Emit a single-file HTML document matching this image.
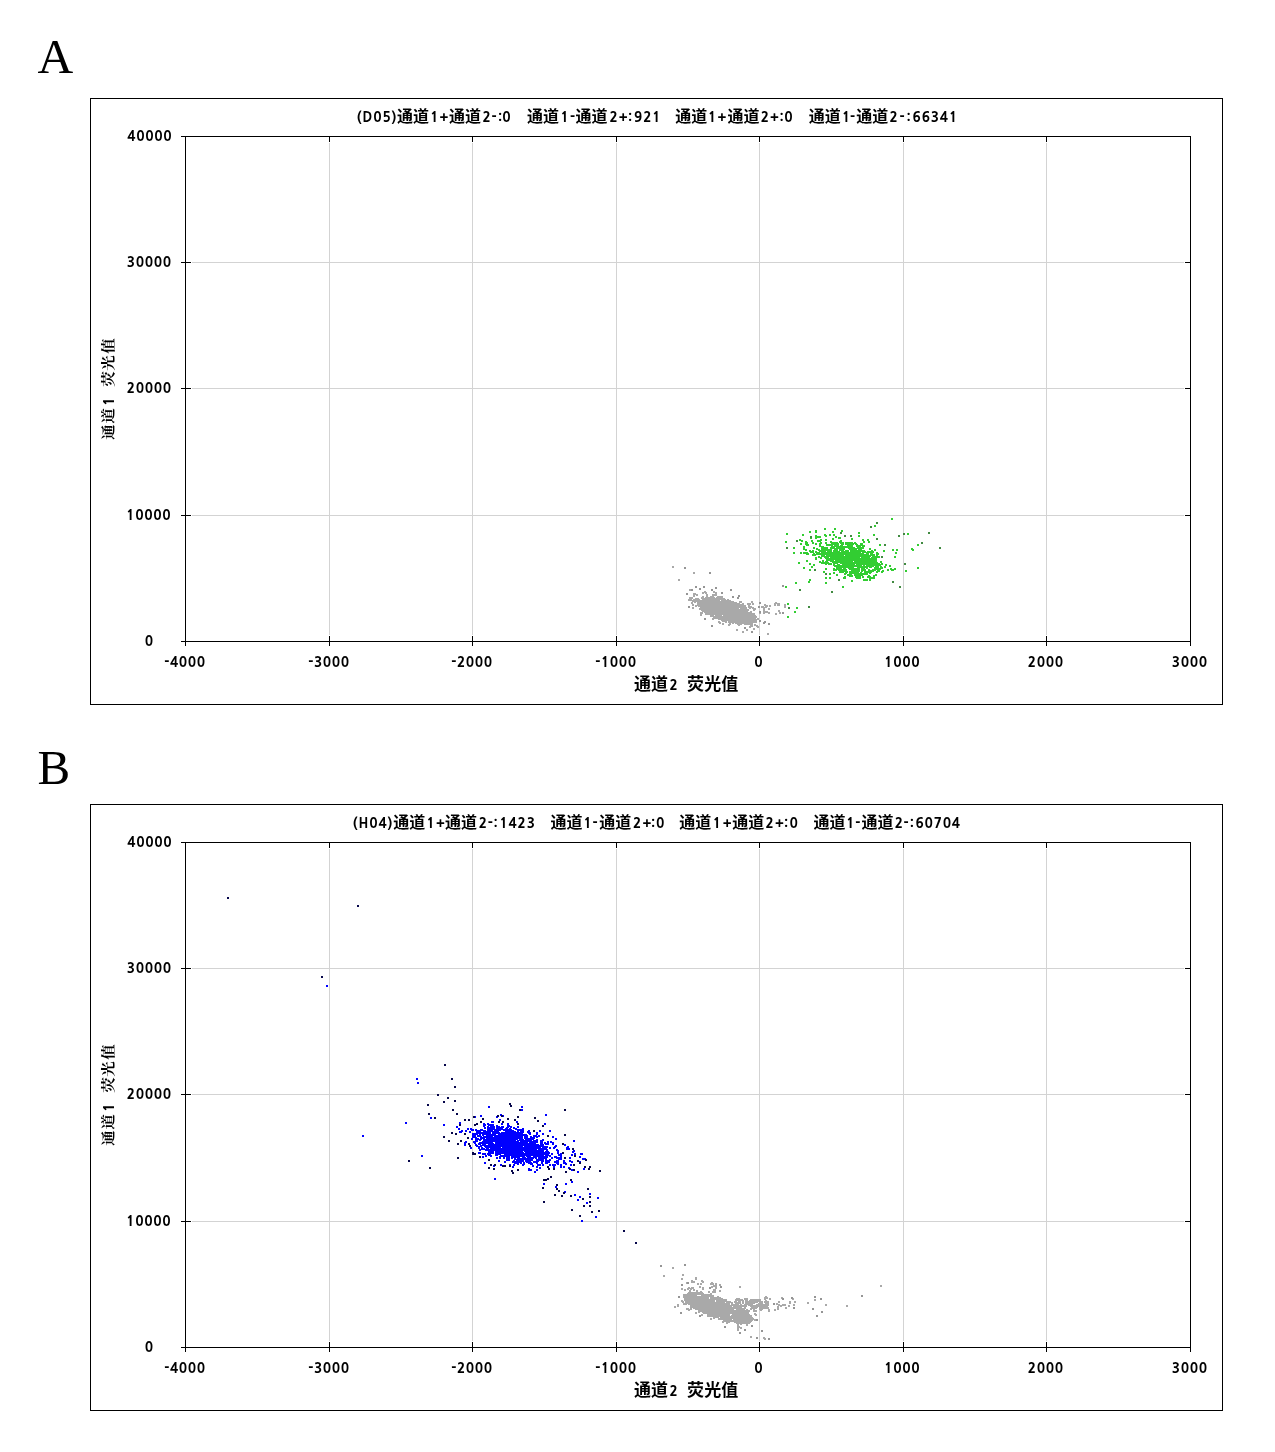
<!DOCTYPE html>
<html><head><meta charset="utf-8"><title>Scatter plots</title>
<style>
html,body{margin:0;padding:0;background:#fff;width:1275px;height:1452px;overflow:hidden}
svg{display:block}
.l{font-family:"NanumGothic", "Liberation Sans", sans-serif;font-weight:800;font-size:13.5px;letter-spacing:0.9px;fill:#000}
.t{font-family:"NanumGothic", "Liberation Sans", sans-serif;font-weight:800;font-size:13.5px;letter-spacing:0.8px;fill:#000}
.c{font-family:"Liberation Sans", "Noto Sans CJK SC", "WenQuanYi Zen Hei", sans-serif;font-weight:bold;font-size:16px;fill:#000}
.cx{font-family:"Liberation Sans", "Noto Sans CJK SC", "WenQuanYi Zen Hei", sans-serif;font-weight:bold;font-size:17px;fill:#000}
.y{font-family:"Liberation Serif", "Noto Serif CJK SC", "Noto Sans CJK SC", serif;font-weight:bold;font-size:15.5px;fill:#000}
.yl{font-family:"NanumGothic", "Liberation Sans", sans-serif;font-weight:800;font-size:14px;fill:#000}
.big{font-family:"Liberation Serif", serif;font-size:49px;fill:#000}
</style></head><body>
<svg width="1275" height="1452" viewBox="0 0 1275 1452" shape-rendering="crispEdges">
<rect width="1275" height="1452" fill="#fff"/>
<text x="37.4" y="72.9" class="big" style="font-size:49.5px">A</text>
<text x="37.6" y="783.8" class="big">B</text>
<rect x="90.5" y="98.5" width="1132" height="606" fill="none" stroke="#000" stroke-width="1"/>
<path d="M329.5 143V635M472.5 143V635M616.5 143V635M759.5 143V635M903.5 143V635M1046.5 143V635M192 515.5H1184M192 388.5H1184M192 262.5H1184" stroke="#d3d3d3" stroke-width="1" fill="none"/>
<path fill="#a9a9a9" d="M732 609h2v2h-2zM746 618h2v2h-2zM746 620h2v2h-2zM722 608h2v2h-2zM715 606h2v2h-2zM742 606h2v2h-2zM726 613h2v2h-2zM715 607h2v2h-2zM755 619h2v2h-2zM716 615h2v2h-2zM710 609h2v2h-2zM711 600h2v2h-2zM750 618h2v2h-2zM731 617h2v2h-2zM723 605h2v2h-2zM702 607h2v2h-2zM705 608h2v2h-2zM723 617h2v2h-2zM699 603h2v2h-2zM708 600h2v2h-2zM701 609h2v2h-2zM713 606h2v2h-2zM713 600h2v2h-2zM740 608h2v2h-2zM710 602h2v2h-2zM708 610h2v2h-2zM740 613h2v2h-2zM736 622h2v2h-2zM751 621h2v2h-2zM736 611h2v2h-2zM722 616h2v2h-2zM734 617h2v2h-2zM719 610h2v2h-2zM708 613h2v2h-2zM712 611h2v2h-2zM734 609h2v2h-2zM717 616h2v2h-2zM734 616h2v2h-2zM729 621h2v2h-2zM721 609h2v2h-2zM716 611h2v2h-2zM731 605h2v2h-2zM745 613h2v2h-2zM698 600h2v2h-2zM738 605h2v2h-2zM723 615h2v2h-2zM723 610h2v2h-2zM716 605h2v2h-2zM725 621h2v2h-2zM721 616h2v2h-2zM733 621h2v2h-2zM725 612h2v2h-2zM729 609h2v2h-2zM736 604h2v2h-2zM741 621h2v2h-2zM715 611h2v2h-2zM725 604h2v2h-2zM732 610h2v2h-2zM715 605h2v2h-2zM726 608h2v2h-2zM725 620h2v2h-2zM732 605h2v2h-2zM732 608h2v2h-2zM703 608h2v2h-2zM726 615h2v2h-2zM733 613h2v2h-2zM712 599h2v2h-2zM709 597h2v2h-2zM731 612h2v2h-2zM700 600h2v2h-2zM738 612h2v2h-2zM735 613h2v2h-2zM728 612h2v2h-2zM740 617h2v2h-2zM702 606h2v2h-2zM709 610h2v2h-2zM747 609h2v2h-2zM738 616h2v2h-2zM729 617h2v2h-2zM755 621h2v2h-2zM721 619h2v2h-2zM711 609h2v2h-2zM745 616h2v2h-2zM720 614h2v2h-2zM707 598h2v2h-2zM722 607h2v2h-2zM721 606h2v2h-2zM717 601h2v2h-2zM716 603h2v2h-2zM752 621h2v2h-2zM714 598h2v2h-2zM728 620h2v2h-2zM703 607h2v2h-2zM725 619h2v2h-2zM723 613h2v2h-2zM736 621h2v2h-2zM730 607h2v2h-2zM730 604h2v2h-2zM744 608h2v2h-2zM716 598h2v2h-2zM720 609h2v2h-2zM710 603h2v2h-2zM717 605h2v2h-2zM755 616h2v2h-2zM724 613h2v2h-2zM729 606h2v2h-2zM743 616h2v2h-2zM728 613h2v2h-2zM753 615h2v2h-2zM723 618h2v2h-2zM714 606h2v2h-2zM745 612h2v2h-2zM722 606h2v2h-2zM703 603h2v2h-2zM723 604h2v2h-2zM732 612h2v2h-2zM736 612h2v2h-2zM733 620h2v2h-2zM739 621h2v2h-2zM738 621h2v2h-2zM729 605h2v2h-2zM735 618h2v2h-2zM742 618h2v2h-2zM711 614h2v2h-2zM723 606h2v2h-2zM728 607h2v2h-2zM704 605h2v2h-2zM710 596h2v2h-2zM752 613h2v2h-2zM746 610h2v2h-2zM731 614h2v2h-2zM723 599h2v2h-2zM733 603h2v2h-2zM707 608h2v2h-2zM729 613h2v2h-2zM707 611h2v2h-2zM703 609h2v2h-2zM737 604h2v2h-2zM719 603h2v2h-2zM717 598h2v2h-2zM732 615h2v2h-2zM708 609h2v2h-2zM737 609h2v2h-2zM714 599h2v2h-2zM734 604h2v2h-2zM717 603h2v2h-2zM733 604h2v2h-2zM744 616h2v2h-2zM723 600h2v2h-2zM738 609h2v2h-2zM752 617h2v2h-2zM727 603h2v2h-2zM737 606h2v2h-2zM746 621h2v2h-2zM740 612h2v2h-2zM722 612h2v2h-2zM736 618h2v2h-2zM731 607h2v2h-2zM715 616h2v2h-2zM728 601h2v2h-2zM747 612h2v2h-2zM719 598h2v2h-2zM716 602h2v2h-2zM743 608h2v2h-2zM724 603h2v2h-2zM723 619h2v2h-2zM735 610h2v2h-2zM708 597h2v2h-2zM748 621h2v2h-2zM703 599h2v2h-2zM709 600h2v2h-2zM716 616h2v2h-2zM742 610h2v2h-2zM725 618h2v2h-2zM730 613h2v2h-2zM716 614h2v2h-2zM709 613h2v2h-2zM739 620h2v2h-2zM702 609h2v2h-2zM733 614h2v2h-2zM721 599h2v2h-2zM739 609h2v2h-2zM703 602h2v2h-2zM724 617h2v2h-2zM720 615h2v2h-2zM737 613h2v2h-2zM719 616h2v2h-2zM708 602h2v2h-2zM744 619h2v2h-2zM718 605h2v2h-2zM736 620h2v2h-2zM718 598h2v2h-2zM727 606h2v2h-2zM728 611h2v2h-2zM720 606h2v2h-2zM729 618h2v2h-2zM732 601h2v2h-2zM724 612h2v2h-2zM718 597h2v2h-2zM715 600h2v2h-2zM728 618h2v2h-2zM734 608h2v2h-2zM709 612h2v2h-2zM731 604h2v2h-2zM710 606h2v2h-2zM711 607h2v2h-2zM722 599h2v2h-2zM710 613h2v2h-2zM708 606h2v2h-2zM727 601h2v2h-2zM720 598h2v2h-2zM734 612h2v2h-2zM715 609h2v2h-2zM714 612h2v2h-2zM747 617h2v2h-2zM718 607h2v2h-2zM724 616h2v2h-2zM751 616h2v2h-2zM729 602h2v2h-2zM723 608h2v2h-2zM735 606h2v2h-2zM736 603h2v2h-2zM742 612h2v2h-2zM748 623h2v2h-2zM728 600h2v2h-2zM740 609h2v2h-2zM700 603h2v2h-2zM741 618h2v2h-2zM734 613h2v2h-2zM749 614h2v2h-2zM710 597h2v2h-2zM728 603h2v2h-2zM722 605h2v2h-2zM698 603h2v2h-2zM744 623h2v2h-2zM716 617h2v2h-2zM706 599h2v2h-2zM718 614h2v2h-2zM716 612h2v2h-2zM742 613h2v2h-2zM707 602h2v2h-2zM722 620h2v2h-2zM707 601h2v2h-2zM737 615h2v2h-2zM754 616h2v2h-2zM738 613h2v2h-2zM735 620h2v2h-2zM725 603h2v2h-2zM711 610h2v2h-2zM703 604h2v2h-2zM710 610h2v2h-2zM723 620h2v2h-2zM700 607h2v2h-2zM699 605h2v2h-2zM730 619h2v2h-2zM746 619h2v2h-2zM737 608h2v2h-2zM702 599h2v2h-2zM741 614h2v2h-2zM727 612h2v2h-2zM743 611h2v2h-2zM741 622h2v2h-2zM733 619h2v2h-2zM718 602h2v2h-2zM725 609h2v2h-2zM740 621h2v2h-2zM734 605h2v2h-2zM700 606h2v2h-2zM745 615h2v2h-2zM752 619h2v2h-2zM729 612h2v2h-2zM722 617h2v2h-2zM714 609h2v2h-2zM733 611h2v2h-2zM719 611h2v2h-2zM742 617h2v2h-2zM706 601h2v2h-2zM733 602h2v2h-2zM729 604h2v2h-2zM713 607h2v2h-2zM727 611h2v2h-2zM727 617h2v2h-2zM741 620h2v2h-2zM713 599h2v2h-2zM701 604h2v2h-2zM754 621h2v2h-2zM744 615h2v2h-2zM749 615h2v2h-2zM698 604h2v2h-2zM717 599h2v2h-2zM712 597h2v2h-2zM726 600h2v2h-2zM731 615h2v2h-2zM728 609h2v2h-2zM713 608h2v2h-2zM708 607h2v2h-2zM730 602h2v2h-2zM720 601h2v2h-2zM747 616h2v2h-2zM705 609h2v2h-2zM724 615h2v2h-2zM719 617h2v2h-2zM702 605h2v2h-2zM726 617h2v2h-2zM741 613h2v2h-2zM701 606h2v2h-2zM713 610h2v2h-2zM731 610h2v2h-2zM732 607h2v2h-2zM727 609h2v2h-2zM750 613h2v2h-2zM726 606h2v2h-2zM713 616h2v2h-2zM742 616h2v2h-2zM745 611h2v2h-2zM711 608h2v2h-2zM715 612h2v2h-2zM716 607h2v2h-2zM729 610h2v2h-2zM729 600h2v2h-2zM726 616h2v2h-2zM741 616h2v2h-2zM738 622h2v2h-2zM747 613h2v2h-2zM722 613h2v2h-2zM736 610h2v2h-2zM735 621h2v2h-2zM701 605h2v2h-2zM713 601h2v2h-2zM732 622h2v2h-2zM716 613h2v2h-2zM723 616h2v2h-2zM745 620h2v2h-2zM750 619h2v2h-2zM725 600h2v2h-2zM738 619h2v2h-2zM717 602h2v2h-2zM715 617h2v2h-2zM699 602h2v2h-2zM717 608h2v2h-2zM707 606h2v2h-2zM740 620h2v2h-2zM750 612h2v2h-2zM737 614h2v2h-2zM707 599h2v2h-2zM720 612h2v2h-2zM748 617h2v2h-2zM712 600h2v2h-2zM721 617h2v2h-2zM706 602h2v2h-2zM741 611h2v2h-2zM745 619h2v2h-2zM743 617h2v2h-2zM753 621h2v2h-2zM734 619h2v2h-2zM730 606h2v2h-2zM754 615h2v2h-2zM712 603h2v2h-2zM741 605h2v2h-2zM723 601h2v2h-2zM720 604h2v2h-2zM700 604h2v2h-2zM738 606h2v2h-2zM731 616h2v2h-2zM724 611h2v2h-2zM701 597h2v2h-2zM736 617h2v2h-2zM713 602h2v2h-2zM735 614h2v2h-2zM730 620h2v2h-2zM741 609h2v2h-2zM701 602h2v2h-2zM709 598h2v2h-2zM742 615h2v2h-2zM719 602h2v2h-2zM715 602h2v2h-2zM724 609h2v2h-2zM723 607h2v2h-2zM740 623h2v2h-2zM703 605h2v2h-2zM712 614h2v2h-2zM727 599h2v2h-2zM712 605h2v2h-2zM724 599h2v2h-2zM750 621h2v2h-2zM720 603h2v2h-2zM731 613h2v2h-2zM745 607h2v2h-2zM742 620h2v2h-2zM731 621h2v2h-2zM743 614h2v2h-2zM750 623h2v2h-2zM742 619h2v2h-2zM731 620h2v2h-2zM702 602h2v2h-2zM707 610h2v2h-2zM701 608h2v2h-2zM749 619h2v2h-2zM738 603h2v2h-2zM705 606h2v2h-2zM705 610h2v2h-2zM721 605h2v2h-2zM745 608h2v2h-2zM714 602h2v2h-2zM707 609h2v2h-2zM743 607h2v2h-2zM735 604h2v2h-2zM716 599h2v2h-2zM742 605h2v2h-2zM717 607h2v2h-2zM718 606h2v2h-2zM722 598h2v2h-2zM718 616h2v2h-2zM736 613h2v2h-2zM709 609h2v2h-2zM714 601h2v2h-2zM706 600h2v2h-2zM713 597h2v2h-2zM712 610h2v2h-2zM740 616h2v2h-2zM714 611h2v2h-2zM718 617h2v2h-2zM746 623h2v2h-2zM738 610h2v2h-2zM739 613h2v2h-2zM740 606h2v2h-2zM737 623h2v2h-2zM705 607h2v2h-2zM737 612h2v2h-2zM709 602h2v2h-2zM710 604h2v2h-2zM714 600h2v2h-2zM722 609h2v2h-2zM711 605h2v2h-2zM743 621h2v2h-2zM716 597h2v2h-2zM718 618h2v2h-2zM736 605h2v2h-2zM730 609h2v2h-2zM738 611h2v2h-2zM736 606h2v2h-2zM726 609h2v2h-2zM748 618h2v2h-2zM718 612h2v2h-2zM712 609h2v2h-2zM743 613h2v2h-2zM743 622h2v2h-2zM716 601h2v2h-2zM720 605h2v2h-2zM733 616h2v2h-2zM733 608h2v2h-2zM716 609h2v2h-2zM712 604h2v2h-2zM728 615h2v2h-2zM699 600h2v2h-2zM725 608h2v2h-2zM729 614h2v2h-2zM746 615h2v2h-2zM711 602h2v2h-2zM711 613h2v2h-2zM739 616h2v2h-2zM724 619h2v2h-2zM712 612h2v2h-2zM754 618h2v2h-2zM729 616h2v2h-2zM709 611h2v2h-2zM697 603h2v2h-2zM704 602h2v2h-2zM749 612h2v2h-2zM718 600h2v2h-2zM732 617h2v2h-2zM715 608h2v2h-2zM752 620h2v2h-2zM751 618h2v2h-2zM746 622h2v2h-2zM739 610h2v2h-2zM736 616h2v2h-2zM749 616h2v2h-2zM744 607h2v2h-2zM724 604h2v2h-2zM725 606h2v2h-2zM727 602h2v2h-2zM730 614h2v2h-2zM724 601h2v2h-2zM746 612h2v2h-2zM721 602h2v2h-2zM733 606h2v2h-2zM707 605h2v2h-2zM717 606h2v2h-2zM751 623h2v2h-2zM719 618h2v2h-2zM740 605h2v2h-2zM727 615h2v2h-2zM718 613h2v2h-2zM739 606h2v2h-2zM749 620h2v2h-2zM719 612h2v2h-2zM708 612h2v2h-2zM710 614h2v2h-2zM721 608h2v2h-2zM714 607h2v2h-2zM746 617h2v2h-2zM708 604h2v2h-2zM708 603h2v2h-2zM712 598h2v2h-2zM718 601h2v2h-2zM754 619h2v2h-2zM711 612h2v2h-2zM740 615h2v2h-2zM751 613h2v2h-2zM730 601h2v2h-2zM718 615h2v2h-2zM723 614h2v2h-2zM733 610h2v2h-2zM731 603h2v2h-2zM731 611h2v2h-2zM725 605h2v2h-2zM740 607h2v2h-2zM734 610h2v2h-2zM750 620h2v2h-2zM743 609h2v2h-2zM710 608h2v2h-2zM728 614h2v2h-2zM731 608h2v2h-2zM737 611h2v2h-2zM725 601h2v2h-2zM726 618h2v2h-2zM735 622h2v2h-2zM734 611h2v2h-2zM735 619h2v2h-2zM718 608h2v2h-2zM727 613h2v2h-2zM723 612h2v2h-2zM744 613h2v2h-2zM742 622h2v2h-2zM721 603h2v2h-2zM706 605h2v2h-2zM708 608h2v2h-2zM719 607h2v2h-2zM726 604h2v2h-2zM706 608h2v2h-2zM720 617h2v2h-2zM697 604h2v2h-2zM715 603h2v2h-2zM734 620h2v2h-2zM704 601h2v2h-2zM711 599h2v2h-2zM706 606h2v2h-2zM707 600h2v2h-2zM742 621h2v2h-2zM717 615h2v2h-2zM717 611h2v2h-2zM707 607h2v2h-2zM702 597h2v2h-2zM748 614h2v2h-2zM709 605h2v2h-2zM729 619h2v2h-2zM735 617h2v2h-2zM729 603h2v2h-2zM719 615h2v2h-2zM730 608h2v2h-2zM709 601h2v2h-2zM734 615h2v2h-2zM730 603h2v2h-2zM728 610h2v2h-2zM735 605h2v2h-2zM735 603h2v2h-2zM730 616h2v2h-2zM730 621h2v2h-2zM702 598h2v2h-2zM747 621h2v2h-2zM725 617h2v2h-2zM714 604h2v2h-2zM707 613h2v2h-2zM721 610h2v2h-2zM706 596h2v2h-2zM753 613h2v2h-2zM733 615h2v2h-2zM704 609h2v2h-2zM720 602h2v2h-2zM717 617h2v2h-2zM711 604h2v2h-2zM705 602h2v2h-2zM727 614h2v2h-2zM713 603h2v2h-2zM716 600h2v2h-2zM711 598h2v2h-2zM704 600h2v2h-2zM737 619h2v2h-2zM731 618h2v2h-2zM734 606h2v2h-2zM731 602h2v2h-2zM712 602h2v2h-2zM743 612h2v2h-2zM746 614h2v2h-2zM725 615h2v2h-2zM749 622h2v2h-2zM729 608h2v2h-2zM754 620h2v2h-2zM715 601h2v2h-2zM704 610h2v2h-2zM738 615h2v2h-2zM741 612h2v2h-2zM740 619h2v2h-2zM729 601h2v2h-2zM725 616h2v2h-2zM735 616h2v2h-2zM750 611h2v2h-2zM701 603h2v2h-2zM745 621h2v2h-2zM732 604h2v2h-2zM741 619h2v2h-2zM706 604h2v2h-2zM700 605h2v2h-2zM731 606h2v2h-2zM726 602h2v2h-2zM710 607h2v2h-2zM737 610h2v2h-2zM727 604h2v2h-2zM705 597h2v2h-2zM744 614h2v2h-2zM734 621h2v2h-2zM702 601h2v2h-2zM749 613h2v2h-2zM716 608h2v2h-2zM704 599h2v2h-2zM727 600h2v2h-2zM733 618h2v2h-2zM724 610h2v2h-2zM726 611h2v2h-2zM702 610h2v2h-2zM753 628h2v2h-2zM704 607h2v2h-2zM722 623h2v2h-2zM733 605h2v2h-2zM741 615h2v2h-2zM726 603h2v2h-2zM734 602h2v2h-2zM748 619h2v2h-2zM735 612h2v2h-2zM742 614h2v2h-2zM748 615h2v2h-2zM709 603h2v2h-2zM735 611h2v2h-2zM706 611h2v2h-2zM706 603h2v2h-2zM728 608h2v2h-2zM730 611h2v2h-2zM725 602h2v2h-2zM733 607h2v2h-2zM735 615h2v2h-2zM717 604h2v2h-2zM749 618h2v2h-2zM689 597h2v2h-2zM690 599h2v2h-2zM724 618h2v2h-2zM729 623h2v2h-2zM714 610h2v2h-2zM751 614h2v2h-2zM724 607h2v2h-2zM715 594h2v2h-2zM720 608h2v2h-2zM729 611h2v2h-2zM712 618h2v2h-2zM722 604h2v2h-2zM728 606h2v2h-2zM718 610h2v2h-2zM714 603h2v2h-2zM723 611h2v2h-2zM740 601h2v2h-2zM706 607h2v2h-2zM739 611h2v2h-2zM718 604h2v2h-2zM721 607h2v2h-2zM732 614h2v2h-2zM719 622h2v2h-2zM731 609h2v2h-2zM717 596h2v2h-2zM726 607h2v2h-2zM725 611h2v2h-2zM724 606h2v2h-2zM732 618h2v2h-2zM718 603h2v2h-2zM724 608h2v2h-2zM738 618h2v2h-2zM739 605h2v2h-2zM711 615h2v2h-2zM698 605h2v2h-2zM704 606h2v2h-2zM736 614h2v2h-2zM748 605h2v2h-2zM732 616h2v2h-2zM731 619h2v2h-2zM748 612h2v2h-2zM738 624h2v2h-2zM726 619h2v2h-2zM722 601h2v2h-2zM723 609h2v2h-2zM697 601h2v2h-2zM728 621h2v2h-2zM718 621h2v2h-2zM757 626h2v2h-2zM728 616h2v2h-2zM739 601h2v2h-2zM722 610h2v2h-2zM748 606h2v2h-2zM726 601h2v2h-2zM751 601h2v2h-2zM730 615h2v2h-2zM763 607h2v2h-2zM726 610h2v2h-2zM722 611h2v2h-2zM730 612h2v2h-2zM732 613h2v2h-2zM725 607h2v2h-2zM733 609h2v2h-2zM700 612h2v2h-2zM705 599h2v2h-2zM730 618h2v2h-2zM750 614h2v2h-2zM710 599h2v2h-2zM728 624h2v2h-2zM746 616h2v2h-2zM737 618h2v2h-2zM717 613h2v2h-2zM746 611h2v2h-2zM708 611h2v2h-2zM694 599h2v2h-2zM736 609h2v2h-2zM744 610h2v2h-2zM715 613h2v2h-2zM732 611h2v2h-2zM708 601h2v2h-2zM725 610h2v2h-2zM688 599h2v2h-2zM721 613h2v2h-2zM739 618h2v2h-2zM749 626h2v2h-2zM717 609h2v2h-2zM728 617h2v2h-2zM739 619h2v2h-2zM721 611h2v2h-2zM754 624h2v2h-2zM734 614h2v2h-2zM712 608h2v2h-2zM719 604h2v2h-2zM742 611h2v2h-2zM695 605h2v2h-2zM712 606h2v2h-2zM721 600h2v2h-2zM736 607h2v2h-2zM720 607h2v2h-2zM756 625h2v2h-2zM757 618h2v2h-2zM722 603h2v2h-2zM714 594h2v2h-2zM718 611h2v2h-2zM744 618h2v2h-2zM721 596h2v2h-2zM719 614h2v2h-2zM711 597h2v2h-2zM716 606h2v2h-2zM718 599h2v2h-2zM712 596h2v2h-2zM703 598h2v2h-2zM705 613h2v2h-2zM742 609h2v2h-2zM743 618h2v2h-2zM706 597h2v2h-2zM700 614h2v2h-2zM713 604h2v2h-2zM713 611h2v2h-2zM737 607h2v2h-2zM743 620h2v2h-2zM745 623h2v2h-2zM694 601h2v2h-2zM711 611h2v2h-2zM721 598h2v2h-2zM710 611h2v2h-2zM741 610h2v2h-2zM715 614h2v2h-2zM727 605h2v2h-2zM737 617h2v2h-2zM720 613h2v2h-2zM750 624h2v2h-2zM714 617h2v2h-2zM732 619h2v2h-2zM722 602h2v2h-2zM733 617h2v2h-2zM712 615h2v2h-2zM740 604h2v2h-2zM703 606h2v2h-2zM705 604h2v2h-2zM692 600h2v2h-2zM728 602h2v2h-2zM744 611h2v2h-2zM718 609h2v2h-2zM724 614h2v2h-2zM693 599h2v2h-2zM715 599h2v2h-2zM721 601h2v2h-2zM701 612h2v2h-2zM724 605h2v2h-2zM750 615h2v2h-2zM714 608h2v2h-2zM696 594h2v2h-2zM702 603h2v2h-2zM719 609h2v2h-2zM747 615h2v2h-2zM747 603h2v2h-2zM712 594h2v2h-2zM744 605h2v2h-2zM716 610h2v2h-2zM753 609h2v2h-2zM697 598h2v2h-2zM693 595h2v2h-2zM698 599h2v2h-2zM715 615h2v2h-2zM706 594h2v2h-2zM691 602h2v2h-2zM710 615h2v2h-2zM735 602h2v2h-2zM722 618h2v2h-2zM719 596h2v2h-2zM705 592h2v2h-2zM697 600h2v2h-2zM736 608h2v2h-2zM742 603h2v2h-2zM713 591h2v2h-2zM704 591h2v2h-2zM722 600h2v2h-2zM693 593h2v2h-2zM723 598h2v2h-2zM752 615h2v2h-2zM736 619h2v2h-2zM695 598h2v2h-2zM702 592h2v2h-2zM742 607h2v2h-2zM699 608h2v2h-2zM735 609h2v2h-2zM743 619h2v2h-2zM713 613h2v2h-2zM700 601h2v2h-2zM720 616h2v2h-2zM704 611h2v2h-2zM702 596h2v2h-2zM706 612h2v2h-2zM696 600h2v2h-2zM715 592h2v2h-2zM692 604h2v2h-2zM713 594h2v2h-2zM719 613h2v2h-2zM749 607h2v2h-2zM746 613h2v2h-2zM763 609h2v2h-2zM768 608h2v2h-2zM769 605h2v2h-2zM777 603h2v2h-2zM779 612h2v2h-2zM766 611h2v2h-2zM778 604h2v2h-2zM778 603h2v2h-2zM754 608h2v2h-2zM752 607h2v2h-2zM752 603h2v2h-2zM750 606h2v2h-2zM777 604h2v2h-2zM762 606h2v2h-2zM749 603h2v2h-2zM763 612h2v2h-2zM778 610h2v2h-2zM774 604h2v2h-2zM784 604h2v2h-2zM765 606h2v2h-2zM784 606h2v2h-2zM766 605h2v2h-2zM764 611h2v2h-2zM753 608h2v2h-2zM774 603h2v2h-2zM761 606h2v2h-2zM763 611h2v2h-2zM751 625h2v2h-2zM746 629h2v2h-2zM775 602h2v2h-2zM764 604h2v2h-2zM694 593h2v2h-2zM691 597h2v2h-2zM692 607h2v2h-2zM767 633h2v2h-2zM742 631h2v2h-2zM759 612h2v2h-2zM736 629h2v2h-2zM768 612h2v2h-2zM775 613h2v2h-2zM672 566h2v2h-2zM693 572h2v2h-2zM678 579h2v2h-2zM689 589h2v2h-2z"/><path fill="#959595" d="M764 621h2v2h-2zM691 589h2v2h-2zM763 622h2v2h-2zM688 606h2v2h-2zM711 625h2v2h-2zM768 623h2v2h-2zM704 618h2v2h-2zM732 596h2v2h-2zM759 620h2v2h-2zM744 627h2v2h-2zM737 597h2v2h-2zM759 611h2v2h-2zM758 606h2v2h-2zM782 612h2v2h-2zM759 602h2v2h-2zM684 567h2v2h-2zM709 572h2v2h-2zM695 586h2v2h-2zM703 586h2v2h-2zM686 593h2v2h-2zM730 589h2v2h-2zM738 595h2v2h-2zM782 585h2v2h-2zM751 631h2v2h-2zM699 588h2v2h-2zM711 589h2v2h-2zM715 587h2v2h-2zM721 592h2v2h-2z"/><path fill="#32cd32" d="M856 554h2v2h-2zM852 553h2v2h-2zM834 562h2v2h-2zM839 547h2v2h-2zM831 546h2v2h-2zM856 557h2v2h-2zM844 562h2v2h-2zM839 560h2v2h-2zM856 556h2v2h-2zM842 554h2v2h-2zM864 563h2v2h-2zM878 563h2v2h-2zM858 554h2v2h-2zM842 548h2v2h-2zM827 557h2v2h-2zM879 564h2v2h-2zM832 558h2v2h-2zM866 557h2v2h-2zM826 552h2v2h-2zM843 559h2v2h-2zM845 560h2v2h-2zM844 560h2v2h-2zM832 557h2v2h-2zM884 566h2v2h-2zM843 561h2v2h-2zM851 575h2v2h-2zM851 555h2v2h-2zM827 549h2v2h-2zM840 561h2v2h-2zM850 568h2v2h-2zM861 568h2v2h-2zM842 566h2v2h-2zM855 559h2v2h-2zM845 555h2v2h-2zM857 565h2v2h-2zM813 553h2v2h-2zM855 572h2v2h-2zM838 567h2v2h-2zM845 543h2v2h-2zM807 553h2v2h-2zM836 549h2v2h-2zM863 545h2v2h-2zM882 570h2v2h-2zM840 554h2v2h-2zM841 553h2v2h-2zM859 551h2v2h-2zM856 552h2v2h-2zM850 547h2v2h-2zM845 556h2v2h-2zM859 561h2v2h-2zM862 560h2v2h-2zM875 567h2v2h-2zM863 561h2v2h-2zM862 552h2v2h-2zM854 551h2v2h-2zM863 563h2v2h-2zM834 561h2v2h-2zM881 567h2v2h-2zM855 555h2v2h-2zM870 565h2v2h-2zM842 542h2v2h-2zM867 555h2v2h-2zM847 557h2v2h-2zM838 553h2v2h-2zM878 556h2v2h-2zM869 559h2v2h-2zM851 560h2v2h-2zM856 545h2v2h-2zM842 547h2v2h-2zM824 548h2v2h-2zM821 562h2v2h-2zM845 569h2v2h-2zM830 563h2v2h-2zM862 558h2v2h-2zM858 559h2v2h-2zM855 550h2v2h-2zM822 560h2v2h-2zM845 562h2v2h-2zM848 562h2v2h-2zM830 558h2v2h-2zM818 553h2v2h-2zM877 567h2v2h-2zM858 562h2v2h-2zM842 565h2v2h-2zM875 559h2v2h-2zM868 555h2v2h-2zM856 560h2v2h-2zM851 567h2v2h-2zM861 563h2v2h-2zM872 562h2v2h-2zM849 564h2v2h-2zM846 558h2v2h-2zM862 547h2v2h-2zM811 540h2v2h-2zM855 543h2v2h-2zM846 560h2v2h-2zM853 554h2v2h-2zM851 558h2v2h-2zM849 555h2v2h-2zM844 551h2v2h-2zM825 553h2v2h-2zM855 553h2v2h-2zM859 550h2v2h-2zM830 557h2v2h-2zM844 556h2v2h-2zM871 557h2v2h-2zM850 552h2v2h-2zM838 552h2v2h-2zM805 552h2v2h-2zM852 570h2v2h-2zM854 549h2v2h-2zM857 569h2v2h-2zM880 566h2v2h-2zM849 561h2v2h-2zM850 566h2v2h-2zM847 564h2v2h-2zM852 549h2v2h-2zM860 554h2v2h-2zM836 567h2v2h-2zM840 568h2v2h-2zM868 569h2v2h-2zM835 558h2v2h-2zM862 557h2v2h-2zM870 577h2v2h-2zM857 571h2v2h-2zM852 566h2v2h-2zM870 563h2v2h-2zM850 557h2v2h-2zM844 567h2v2h-2zM868 556h2v2h-2zM860 562h2v2h-2zM869 576h2v2h-2zM843 563h2v2h-2zM842 569h2v2h-2zM853 562h2v2h-2zM837 565h2v2h-2zM862 566h2v2h-2zM854 562h2v2h-2zM837 551h2v2h-2zM872 561h2v2h-2zM850 553h2v2h-2zM850 565h2v2h-2zM845 550h2v2h-2zM858 550h2v2h-2zM823 547h2v2h-2zM821 550h2v2h-2zM826 554h2v2h-2zM850 562h2v2h-2zM858 568h2v2h-2zM857 559h2v2h-2zM847 560h2v2h-2zM832 553h2v2h-2zM863 557h2v2h-2zM845 571h2v2h-2zM842 561h2v2h-2zM841 551h2v2h-2zM840 560h2v2h-2zM832 552h2v2h-2zM850 571h2v2h-2zM851 545h2v2h-2zM866 558h2v2h-2zM825 547h2v2h-2zM867 564h2v2h-2zM849 557h2v2h-2zM851 546h2v2h-2zM838 556h2v2h-2zM825 563h2v2h-2zM860 572h2v2h-2zM848 555h2v2h-2zM859 564h2v2h-2zM863 555h2v2h-2zM845 546h2v2h-2zM844 566h2v2h-2zM865 560h2v2h-2zM852 556h2v2h-2zM851 566h2v2h-2zM860 563h2v2h-2zM849 556h2v2h-2zM879 568h2v2h-2zM836 555h2v2h-2zM869 560h2v2h-2zM872 559h2v2h-2zM832 561h2v2h-2zM863 558h2v2h-2zM856 551h2v2h-2zM859 575h2v2h-2zM852 563h2v2h-2zM836 554h2v2h-2zM845 559h2v2h-2zM873 554h2v2h-2zM848 558h2v2h-2zM817 552h2v2h-2zM830 552h2v2h-2zM833 557h2v2h-2zM839 557h2v2h-2zM830 541h2v2h-2zM866 563h2v2h-2zM857 550h2v2h-2zM839 552h2v2h-2zM871 564h2v2h-2zM849 554h2v2h-2zM820 557h2v2h-2zM835 549h2v2h-2zM836 562h2v2h-2zM846 563h2v2h-2zM837 566h2v2h-2zM844 546h2v2h-2zM881 571h2v2h-2zM851 559h2v2h-2zM841 562h2v2h-2zM853 547h2v2h-2zM834 545h2v2h-2zM859 554h2v2h-2zM864 562h2v2h-2zM841 557h2v2h-2zM846 555h2v2h-2zM855 554h2v2h-2zM842 546h2v2h-2zM827 556h2v2h-2zM847 553h2v2h-2zM844 565h2v2h-2zM836 544h2v2h-2zM832 559h2v2h-2zM843 548h2v2h-2zM856 562h2v2h-2zM842 549h2v2h-2zM873 575h2v2h-2zM878 570h2v2h-2zM856 561h2v2h-2zM869 565h2v2h-2zM842 558h2v2h-2zM866 567h2v2h-2zM835 545h2v2h-2zM853 559h2v2h-2zM844 559h2v2h-2zM822 546h2v2h-2zM830 555h2v2h-2zM856 565h2v2h-2zM870 558h2v2h-2zM853 557h2v2h-2zM806 552h2v2h-2zM852 567h2v2h-2zM843 552h2v2h-2zM844 552h2v2h-2zM842 563h2v2h-2zM833 564h2v2h-2zM865 572h2v2h-2zM858 552h2v2h-2zM838 564h2v2h-2zM863 565h2v2h-2zM860 543h2v2h-2zM854 555h2v2h-2zM833 552h2v2h-2zM844 553h2v2h-2zM834 551h2v2h-2zM823 549h2v2h-2zM845 552h2v2h-2zM860 574h2v2h-2zM833 547h2v2h-2zM849 571h2v2h-2zM873 557h2v2h-2zM853 548h2v2h-2zM835 560h2v2h-2zM852 547h2v2h-2zM870 566h2v2h-2zM861 557h2v2h-2zM856 555h2v2h-2zM852 562h2v2h-2zM862 562h2v2h-2zM841 561h2v2h-2zM837 554h2v2h-2zM824 547h2v2h-2zM866 566h2v2h-2zM858 566h2v2h-2zM850 559h2v2h-2zM876 556h2v2h-2zM838 547h2v2h-2zM868 560h2v2h-2zM841 542h2v2h-2zM841 566h2v2h-2zM830 560h2v2h-2zM853 551h2v2h-2zM846 556h2v2h-2zM853 572h2v2h-2zM840 559h2v2h-2zM831 545h2v2h-2zM862 545h2v2h-2zM872 551h2v2h-2zM858 569h2v2h-2zM848 560h2v2h-2zM824 556h2v2h-2zM846 554h2v2h-2zM868 558h2v2h-2zM857 556h2v2h-2zM838 551h2v2h-2zM859 573h2v2h-2zM850 551h2v2h-2zM861 558h2v2h-2zM827 562h2v2h-2zM839 567h2v2h-2zM850 574h2v2h-2zM856 568h2v2h-2zM843 570h2v2h-2zM859 549h2v2h-2zM861 566h2v2h-2zM830 544h2v2h-2zM848 544h2v2h-2zM845 563h2v2h-2zM851 562h2v2h-2zM864 561h2v2h-2zM830 554h2v2h-2zM825 549h2v2h-2zM841 547h2v2h-2zM841 560h2v2h-2zM846 557h2v2h-2zM841 554h2v2h-2zM849 546h2v2h-2zM824 549h2v2h-2zM841 565h2v2h-2zM859 553h2v2h-2zM865 559h2v2h-2zM891 569h2v2h-2zM850 564h2v2h-2zM837 558h2v2h-2zM852 559h2v2h-2zM855 576h2v2h-2zM852 558h2v2h-2zM834 556h2v2h-2zM843 577h2v2h-2zM851 551h2v2h-2zM828 559h2v2h-2zM831 556h2v2h-2zM870 553h2v2h-2zM819 545h2v2h-2zM851 565h2v2h-2zM870 562h2v2h-2zM857 567h2v2h-2zM867 565h2v2h-2zM843 551h2v2h-2zM880 561h2v2h-2zM875 560h2v2h-2zM860 565h2v2h-2zM833 569h2v2h-2zM864 566h2v2h-2zM855 562h2v2h-2zM858 577h2v2h-2zM865 561h2v2h-2zM872 558h2v2h-2zM851 550h2v2h-2zM853 569h2v2h-2zM847 562h2v2h-2zM847 554h2v2h-2zM877 564h2v2h-2zM856 563h2v2h-2zM875 574h2v2h-2zM840 552h2v2h-2zM850 555h2v2h-2zM842 564h2v2h-2zM844 558h2v2h-2zM847 561h2v2h-2zM845 551h2v2h-2zM876 564h2v2h-2zM857 563h2v2h-2zM836 574h2v2h-2zM865 556h2v2h-2zM829 554h2v2h-2zM839 571h2v2h-2zM875 565h2v2h-2zM812 551h2v2h-2zM862 569h2v2h-2zM846 564h2v2h-2zM837 561h2v2h-2zM819 553h2v2h-2zM831 552h2v2h-2zM842 556h2v2h-2zM848 564h2v2h-2zM850 548h2v2h-2zM855 557h2v2h-2zM832 531h2v2h-2zM833 572h2v2h-2zM820 542h2v2h-2zM860 558h2v2h-2zM876 554h2v2h-2zM860 553h2v2h-2zM841 571h2v2h-2zM858 558h2v2h-2zM831 560h2v2h-2zM856 550h2v2h-2zM834 558h2v2h-2zM868 561h2v2h-2zM867 559h2v2h-2zM857 558h2v2h-2zM862 561h2v2h-2zM872 570h2v2h-2zM846 566h2v2h-2zM833 543h2v2h-2zM840 540h2v2h-2zM860 559h2v2h-2zM867 571h2v2h-2zM854 554h2v2h-2zM869 579h2v2h-2zM866 564h2v2h-2zM847 544h2v2h-2zM837 557h2v2h-2zM849 545h2v2h-2zM869 564h2v2h-2zM838 554h2v2h-2zM859 566h2v2h-2zM848 567h2v2h-2zM844 568h2v2h-2zM864 571h2v2h-2zM867 576h2v2h-2zM835 561h2v2h-2zM862 559h2v2h-2zM832 542h2v2h-2zM838 537h2v2h-2zM847 559h2v2h-2zM834 542h2v2h-2zM861 547h2v2h-2zM835 557h2v2h-2zM868 551h2v2h-2zM840 555h2v2h-2zM873 558h2v2h-2zM869 571h2v2h-2zM865 558h2v2h-2zM853 564h2v2h-2zM862 573h2v2h-2zM829 558h2v2h-2zM858 557h2v2h-2zM835 554h2v2h-2zM854 569h2v2h-2zM849 575h2v2h-2zM866 554h2v2h-2zM815 535h2v2h-2zM868 559h2v2h-2zM870 551h2v2h-2zM869 572h2v2h-2zM861 567h2v2h-2zM828 544h2v2h-2zM854 565h2v2h-2zM861 574h2v2h-2zM847 558h2v2h-2zM872 569h2v2h-2zM854 561h2v2h-2zM848 554h2v2h-2zM834 544h2v2h-2zM855 568h2v2h-2zM863 568h2v2h-2zM861 561h2v2h-2zM848 566h2v2h-2zM863 551h2v2h-2zM863 550h2v2h-2zM855 551h2v2h-2zM864 557h2v2h-2zM866 552h2v2h-2zM833 563h2v2h-2zM858 553h2v2h-2zM818 552h2v2h-2zM863 564h2v2h-2zM825 557h2v2h-2zM867 553h2v2h-2zM866 561h2v2h-2zM858 560h2v2h-2zM839 549h2v2h-2zM826 559h2v2h-2zM836 543h2v2h-2zM835 553h2v2h-2zM857 573h2v2h-2zM845 565h2v2h-2zM828 549h2v2h-2zM875 558h2v2h-2zM849 562h2v2h-2zM867 551h2v2h-2zM843 556h2v2h-2zM862 550h2v2h-2zM841 544h2v2h-2zM864 573h2v2h-2zM844 573h2v2h-2zM838 560h2v2h-2zM831 553h2v2h-2zM834 565h2v2h-2zM830 550h2v2h-2zM874 557h2v2h-2zM836 566h2v2h-2zM856 544h2v2h-2zM851 556h2v2h-2zM839 541h2v2h-2zM837 552h2v2h-2zM841 570h2v2h-2zM838 558h2v2h-2zM864 569h2v2h-2zM841 549h2v2h-2zM827 551h2v2h-2zM857 562h2v2h-2zM838 565h2v2h-2zM855 574h2v2h-2zM854 570h2v2h-2zM853 553h2v2h-2zM833 568h2v2h-2zM872 560h2v2h-2zM826 556h2v2h-2zM869 561h2v2h-2zM874 556h2v2h-2zM846 553h2v2h-2zM845 542h2v2h-2zM849 542h2v2h-2zM862 556h2v2h-2zM871 552h2v2h-2zM848 547h2v2h-2zM828 555h2v2h-2zM836 565h2v2h-2zM876 562h2v2h-2zM874 559h2v2h-2zM851 569h2v2h-2zM858 570h2v2h-2zM852 543h2v2h-2zM840 542h2v2h-2zM829 559h2v2h-2zM828 551h2v2h-2zM843 568h2v2h-2zM838 561h2v2h-2zM843 564h2v2h-2zM847 546h2v2h-2zM874 564h2v2h-2zM839 569h2v2h-2zM841 552h2v2h-2zM858 555h2v2h-2zM846 562h2v2h-2zM832 554h2v2h-2zM852 555h2v2h-2zM840 557h2v2h-2zM867 563h2v2h-2zM872 554h2v2h-2zM847 550h2v2h-2zM875 568h2v2h-2zM834 552h2v2h-2zM822 551h2v2h-2zM848 561h2v2h-2zM826 560h2v2h-2zM824 551h2v2h-2zM871 562h2v2h-2zM849 552h2v2h-2zM835 552h2v2h-2zM877 569h2v2h-2zM830 547h2v2h-2zM842 543h2v2h-2zM866 573h2v2h-2zM874 562h2v2h-2zM834 549h2v2h-2zM837 545h2v2h-2zM858 548h2v2h-2zM851 563h2v2h-2zM833 558h2v2h-2zM857 547h2v2h-2zM853 550h2v2h-2zM833 561h2v2h-2zM854 542h2v2h-2zM860 548h2v2h-2zM863 560h2v2h-2zM822 554h2v2h-2zM850 543h2v2h-2zM875 557h2v2h-2zM840 570h2v2h-2zM867 562h2v2h-2zM837 564h2v2h-2zM861 570h2v2h-2zM857 575h2v2h-2zM870 571h2v2h-2zM839 546h2v2h-2zM852 550h2v2h-2zM845 566h2v2h-2zM871 561h2v2h-2zM854 574h2v2h-2zM834 548h2v2h-2zM872 556h2v2h-2zM835 543h2v2h-2zM821 552h2v2h-2zM846 571h2v2h-2zM864 551h2v2h-2zM837 568h2v2h-2zM877 565h2v2h-2zM836 542h2v2h-2zM833 546h2v2h-2zM846 542h2v2h-2zM854 560h2v2h-2zM826 544h2v2h-2zM839 565h2v2h-2zM859 574h2v2h-2zM836 560h2v2h-2zM873 560h2v2h-2zM857 561h2v2h-2zM865 571h2v2h-2zM870 554h2v2h-2zM851 571h2v2h-2zM832 556h2v2h-2zM860 573h2v2h-2zM857 554h2v2h-2zM835 550h2v2h-2zM870 559h2v2h-2zM871 551h2v2h-2zM861 555h2v2h-2zM823 554h2v2h-2zM857 545h2v2h-2zM847 542h2v2h-2zM844 561h2v2h-2zM834 554h2v2h-2zM832 560h2v2h-2zM825 561h2v2h-2zM833 553h2v2h-2zM840 562h2v2h-2zM821 555h2v2h-2zM849 560h2v2h-2zM846 561h2v2h-2zM849 573h2v2h-2zM851 572h2v2h-2zM838 555h2v2h-2zM855 548h2v2h-2zM870 570h2v2h-2zM838 569h2v2h-2zM840 545h2v2h-2zM878 568h2v2h-2zM868 570h2v2h-2zM861 543h2v2h-2zM821 546h2v2h-2zM837 553h2v2h-2zM864 554h2v2h-2zM877 570h2v2h-2zM835 551h2v2h-2zM823 571h2v2h-2zM840 565h2v2h-2zM849 568h2v2h-2zM872 565h2v2h-2zM832 538h2v2h-2zM855 570h2v2h-2zM835 569h2v2h-2zM856 576h2v2h-2zM826 547h2v2h-2zM878 564h2v2h-2zM890 568h2v2h-2zM850 561h2v2h-2zM836 552h2v2h-2zM846 551h2v2h-2zM835 536h2v2h-2zM825 542h2v2h-2zM811 566h2v2h-2zM850 546h2v2h-2zM869 566h2v2h-2zM853 568h2v2h-2zM869 555h2v2h-2zM806 553h2v2h-2zM874 569h2v2h-2zM810 551h2v2h-2zM820 539h2v2h-2zM865 555h2v2h-2zM851 542h2v2h-2zM822 555h2v2h-2zM833 534h2v2h-2zM859 555h2v2h-2zM812 554h2v2h-2zM824 562h2v2h-2zM892 569h2v2h-2zM858 551h2v2h-2zM860 549h2v2h-2zM868 575h2v2h-2zM871 550h2v2h-2zM873 577h2v2h-2zM826 561h2v2h-2zM816 553h2v2h-2zM826 549h2v2h-2zM833 550h2v2h-2zM851 553h2v2h-2zM863 541h2v2h-2zM858 547h2v2h-2zM809 563h2v2h-2zM828 563h2v2h-2zM813 547h2v2h-2zM860 547h2v2h-2zM809 550h2v2h-2zM815 551h2v2h-2zM841 550h2v2h-2zM831 547h2v2h-2zM863 579h2v2h-2zM831 554h2v2h-2zM856 577h2v2h-2zM836 547h2v2h-2zM839 553h2v2h-2zM850 550h2v2h-2zM852 552h2v2h-2zM823 562h2v2h-2zM877 553h2v2h-2zM821 548h2v2h-2zM864 579h2v2h-2zM861 544h2v2h-2zM862 576h2v2h-2zM817 536h2v2h-2zM859 545h2v2h-2zM819 550h2v2h-2zM817 540h2v2h-2zM860 555h2v2h-2zM827 554h2v2h-2zM859 577h2v2h-2zM869 548h2v2h-2zM815 543h2v2h-2zM849 548h2v2h-2zM844 577h2v2h-2zM860 550h2v2h-2zM881 563h2v2h-2zM860 561h2v2h-2zM841 569h2v2h-2zM874 549h2v2h-2zM874 567h2v2h-2zM831 542h2v2h-2zM894 568h2v2h-2zM887 569h2v2h-2zM818 549h2v2h-2zM868 563h2v2h-2zM862 553h2v2h-2zM843 565h2v2h-2zM857 551h2v2h-2zM844 557h2v2h-2zM819 561h2v2h-2zM844 576h2v2h-2zM861 554h2v2h-2zM895 552h2v2h-2zM873 564h2v2h-2zM859 576h2v2h-2zM847 552h2v2h-2zM842 571h2v2h-2zM871 577h2v2h-2zM876 552h2v2h-2zM866 579h2v2h-2zM845 572h2v2h-2zM869 578h2v2h-2zM800 543h2v2h-2zM847 574h2v2h-2zM805 543h2v2h-2zM837 543h2v2h-2zM839 537h2v2h-2zM876 571h2v2h-2zM831 555h2v2h-2zM852 564h2v2h-2zM815 557h2v2h-2zM805 549h2v2h-2zM806 542h2v2h-2zM830 548h2v2h-2zM815 558h2v2h-2zM823 550h2v2h-2zM806 544h2v2h-2zM819 543h2v2h-2zM823 552h2v2h-2zM826 548h2v2h-2zM816 548h2v2h-2zM812 550h2v2h-2zM803 548h2v2h-2zM814 554h2v2h-2zM821 554h2v2h-2zM803 552h2v2h-2zM819 536h2v2h-2zM805 541h2v2h-2zM807 544h2v2h-2zM803 546h2v2h-2zM801 540h2v2h-2zM832 543h2v2h-2zM799 539h2v2h-2zM818 556h2v2h-2zM828 552h2v2h-2zM819 540h2v2h-2zM810 537h2v2h-2zM815 537h2v2h-2zM822 552h2v2h-2zM812 542h2v2h-2zM787 603h2v2h-2zM851 580h2v2h-2zM862 539h2v2h-2zM868 541h2v2h-2zM885 564h2v2h-2zM824 528h2v2h-2zM815 530h2v2h-2zM858 532h2v2h-2zM825 539h2v2h-2zM879 544h2v2h-2zM829 534h2v2h-2zM867 539h2v2h-2zM793 552h2v2h-2zM829 573h2v2h-2zM803 567h2v2h-2zM793 547h2v2h-2zM825 535h2v2h-2zM851 538h2v2h-2zM892 549h2v2h-2zM825 568h2v2h-2zM785 541h2v2h-2zM894 556h2v2h-2zM858 535h2v2h-2zM825 577h2v2h-2zM911 548h2v2h-2zM824 534h2v2h-2zM798 562h2v2h-2zM889 565h2v2h-2zM905 570h2v2h-2zM806 560h2v2h-2zM917 567h2v2h-2zM785 586h2v2h-2zM813 564h2v2h-2zM883 550h2v2h-2zM834 528h2v2h-2zM825 582h2v2h-2zM786 533h2v2h-2zM808 581h2v2h-2zM841 530h2v2h-2zM809 569h2v2h-2zM809 531h2v2h-2zM800 552h2v2h-2zM815 531h2v2h-2zM802 534h2v2h-2zM891 518h2v2h-2zM874 525h2v2h-2zM873 534h2v2h-2zM907 533h2v2h-2zM917 544h2v2h-2zM912 549h2v2h-2zM896 549h2v2h-2zM796 607h2v2h-2zM794 611h2v2h-2zM787 616h2v2h-2zM795 582h2v2h-2zM842 586h2v2h-2zM809 579h2v2h-2zM829 577h2v2h-2z"/><path fill="#418a41" d="M810 536h2v2h-2zM844 535h2v2h-2zM904 563h2v2h-2zM825 573h2v2h-2zM838 579h2v2h-2zM814 569h2v2h-2zM881 556h2v2h-2zM850 535h2v2h-2zM840 532h2v2h-2zM892 581h2v2h-2zM899 586h2v2h-2zM876 538h2v2h-2zM796 540h2v2h-2zM831 591h2v2h-2zM786 547h2v2h-2zM884 544h2v2h-2zM876 522h2v2h-2zM870 526h2v2h-2zM898 535h2v2h-2zM903 533h2v2h-2zM928 532h2v2h-2zM921 542h2v2h-2zM939 547h2v2h-2zM788 607h2v2h-2zM808 606h2v2h-2zM799 589h2v2h-2z"/>
<path d="M185.5 136.5H1190.5V641.5H185.5ZM185.5 636V646M329.5 636V646M329.5 137V142M472.5 636V646M472.5 137V142M616.5 636V646M616.5 137V142M759.5 636V646M759.5 137V142M903.5 636V646M903.5 137V142M1046.5 636V646M1046.5 137V142M1190.5 636V646M181 641.5H191M181 515.5H191M1185 515.5H1190M181 388.5H191M1185 388.5H1190M181 262.5H191M1185 262.5H1190M181 136.5H191" stroke="#000" stroke-width="1" fill="none"/>
<text x="144.80" y="645.80" class="t">0</text>
<text x="126.30" y="519.80" class="t">10000</text>
<text x="126.80" y="392.80" class="t">20000</text>
<text x="126.80" y="266.80" class="t">30000</text>
<text x="127.30" y="140.80" class="t">40000</text>
<text x="164.20" y="667.00" class="t">-4000</text>
<text x="308.20" y="667.00" class="t">-3000</text>
<text x="451.20" y="667.00" class="t">-2000</text>
<text x="595.20" y="667.00" class="t">-1000</text>
<text x="754.20" y="667.00" class="t">0</text>
<text x="884.20" y="667.00" class="t">1000</text>
<text x="1027.70" y="667.00" class="t">2000</text>
<text x="1171.70" y="667.00" class="t">3000</text>
<text x="634.00" y="689.80" class="cx" xml:space="preserve">通道</text><text x="669.60" y="689.80" class="l" xml:space="preserve">2</text><text x="686.90" y="689.80" class="cx" xml:space="preserve">荧</text><text x="704.20" y="689.80" class="cx" xml:space="preserve">光</text><text x="721.20" y="689.80" class="cx" xml:space="preserve">值</text>
<g transform="translate(113.4 438.8) rotate(-90) scale(1 0.87)"><text x="-1.00" y="0" class="y">通</text><text x="15.30" y="0" class="y">道</text><text x="52.00" y="0" class="y">荧</text><text x="68.00" y="0" class="y">光</text><text x="85.00" y="0" class="y">值</text></g>
<g transform="translate(114.4 438.8) rotate(-90)"><text x="33.00" y="0" class="yl">1</text></g>
<text x="356.80" y="121.50" class="l" xml:space="preserve">(D05)</text><text x="396.90" y="121.60" class="c" xml:space="preserve">通道</text><text x="430.20" y="121.50" class="l" xml:space="preserve">1</text><text x="439.60" y="121.50" class="l" xml:space="preserve">+</text><text x="449.10" y="121.60" class="c" xml:space="preserve">通道</text><text x="482.50" y="121.50" class="l" xml:space="preserve">2</text><text x="491.40" y="121.50" class="l" xml:space="preserve">-</text><text x="498.00" y="121.50" class="l" xml:space="preserve">:</text><text x="502.20" y="121.50" class="l" xml:space="preserve">0</text><text x="527.10" y="121.60" class="c" xml:space="preserve">通道</text><text x="560.40" y="121.50" class="l" xml:space="preserve">1</text><text x="569.90" y="121.50" class="l" xml:space="preserve">-</text><text x="575.60" y="121.60" class="c" xml:space="preserve">通道</text><text x="609.60" y="121.50" class="l" xml:space="preserve">2</text><text x="618.80" y="121.50" class="l" xml:space="preserve">+</text><text x="628.00" y="121.50" class="l" xml:space="preserve">:</text><text x="634.10" y="121.50" class="l" xml:space="preserve">921</text><text x="675.20" y="121.60" class="c" xml:space="preserve">通道</text><text x="708.00" y="121.50" class="l" xml:space="preserve">1</text><text x="717.50" y="121.50" class="l" xml:space="preserve">+</text><text x="727.40" y="121.60" class="c" xml:space="preserve">通道</text><text x="760.70" y="121.50" class="l" xml:space="preserve">2</text><text x="770.10" y="121.50" class="l" xml:space="preserve">+</text><text x="779.50" y="121.50" class="l" xml:space="preserve">:</text><text x="784.20" y="121.50" class="l" xml:space="preserve">0</text><text x="808.80" y="121.60" class="c" xml:space="preserve">通道</text><text x="841.90" y="121.50" class="l" xml:space="preserve">1</text><text x="850.00" y="121.50" class="l" xml:space="preserve">-</text><text x="856.20" y="121.60" class="c" xml:space="preserve">通道</text><text x="889.50" y="121.50" class="l" xml:space="preserve">2</text><text x="899.40" y="121.50" class="l" xml:space="preserve">-</text><text x="906.50" y="121.50" class="l" xml:space="preserve">:</text><text x="912.60" y="121.50" class="l" xml:space="preserve">66341</text>
<rect x="90.5" y="804.5" width="1132" height="606" fill="none" stroke="#000" stroke-width="1"/>
<path d="M329.5 849V1341M472.5 849V1341M616.5 849V1341M759.5 849V1341M903.5 849V1341M1046.5 849V1341M192 1221.5H1184M192 1094.5H1184M192 968.5H1184" stroke="#d3d3d3" stroke-width="1" fill="none"/>
<path fill="#a9a9a9" d="M740 1308h2v2h-2zM745 1320h2v2h-2zM692 1298h2v2h-2zM736 1314h2v2h-2zM721 1310h2v2h-2zM737 1316h2v2h-2zM723 1315h2v2h-2zM716 1309h2v2h-2zM724 1310h2v2h-2zM699 1292h2v2h-2zM694 1295h2v2h-2zM712 1300h2v2h-2zM740 1314h2v2h-2zM707 1314h2v2h-2zM715 1316h2v2h-2zM703 1311h2v2h-2zM727 1305h2v2h-2zM705 1297h2v2h-2zM720 1299h2v2h-2zM717 1310h2v2h-2zM733 1318h2v2h-2zM699 1302h2v2h-2zM746 1311h2v2h-2zM722 1300h2v2h-2zM710 1295h2v2h-2zM705 1307h2v2h-2zM747 1313h2v2h-2zM718 1309h2v2h-2zM712 1314h2v2h-2zM716 1307h2v2h-2zM723 1316h2v2h-2zM697 1304h2v2h-2zM717 1302h2v2h-2zM731 1307h2v2h-2zM703 1294h2v2h-2zM698 1299h2v2h-2zM729 1309h2v2h-2zM726 1318h2v2h-2zM711 1298h2v2h-2zM692 1305h2v2h-2zM733 1311h2v2h-2zM722 1314h2v2h-2zM713 1315h2v2h-2zM734 1318h2v2h-2zM692 1301h2v2h-2zM712 1301h2v2h-2zM716 1308h2v2h-2zM721 1305h2v2h-2zM710 1314h2v2h-2zM701 1298h2v2h-2zM701 1293h2v2h-2zM730 1316h2v2h-2zM699 1293h2v2h-2zM700 1296h2v2h-2zM730 1308h2v2h-2zM705 1312h2v2h-2zM734 1319h2v2h-2zM690 1295h2v2h-2zM734 1307h2v2h-2zM728 1314h2v2h-2zM722 1317h2v2h-2zM725 1312h2v2h-2zM746 1316h2v2h-2zM721 1300h2v2h-2zM734 1316h2v2h-2zM737 1306h2v2h-2zM702 1304h2v2h-2zM738 1315h2v2h-2zM715 1313h2v2h-2zM745 1319h2v2h-2zM728 1318h2v2h-2zM747 1321h2v2h-2zM737 1322h2v2h-2zM740 1320h2v2h-2zM688 1301h2v2h-2zM724 1306h2v2h-2zM726 1301h2v2h-2zM686 1294h2v2h-2zM742 1313h2v2h-2zM738 1317h2v2h-2zM751 1319h2v2h-2zM719 1302h2v2h-2zM703 1297h2v2h-2zM717 1307h2v2h-2zM711 1312h2v2h-2zM740 1310h2v2h-2zM743 1308h2v2h-2zM748 1321h2v2h-2zM737 1312h2v2h-2zM724 1299h2v2h-2zM727 1307h2v2h-2zM685 1297h2v2h-2zM722 1305h2v2h-2zM737 1310h2v2h-2zM725 1308h2v2h-2zM709 1314h2v2h-2zM730 1320h2v2h-2zM710 1301h2v2h-2zM730 1307h2v2h-2zM693 1301h2v2h-2zM729 1318h2v2h-2zM708 1306h2v2h-2zM749 1316h2v2h-2zM713 1300h2v2h-2zM727 1316h2v2h-2zM719 1310h2v2h-2zM732 1310h2v2h-2zM697 1299h2v2h-2zM710 1315h2v2h-2zM722 1318h2v2h-2zM715 1314h2v2h-2zM694 1298h2v2h-2zM721 1317h2v2h-2zM741 1321h2v2h-2zM728 1305h2v2h-2zM702 1294h2v2h-2zM700 1297h2v2h-2zM714 1314h2v2h-2zM689 1302h2v2h-2zM737 1309h2v2h-2zM689 1301h2v2h-2zM719 1308h2v2h-2zM711 1306h2v2h-2zM728 1313h2v2h-2zM721 1303h2v2h-2zM733 1312h2v2h-2zM744 1314h2v2h-2zM739 1321h2v2h-2zM726 1304h2v2h-2zM732 1316h2v2h-2zM695 1301h2v2h-2zM727 1301h2v2h-2zM731 1302h2v2h-2zM706 1309h2v2h-2zM689 1295h2v2h-2zM749 1318h2v2h-2zM690 1304h2v2h-2zM692 1299h2v2h-2zM693 1294h2v2h-2zM699 1307h2v2h-2zM706 1308h2v2h-2zM739 1310h2v2h-2zM724 1309h2v2h-2zM693 1297h2v2h-2zM685 1298h2v2h-2zM722 1309h2v2h-2zM703 1309h2v2h-2zM693 1300h2v2h-2zM742 1318h2v2h-2zM747 1318h2v2h-2zM742 1316h2v2h-2zM699 1296h2v2h-2zM741 1316h2v2h-2zM706 1299h2v2h-2zM714 1298h2v2h-2zM744 1319h2v2h-2zM702 1302h2v2h-2zM723 1319h2v2h-2zM745 1312h2v2h-2zM693 1307h2v2h-2zM721 1314h2v2h-2zM695 1302h2v2h-2zM708 1309h2v2h-2zM718 1306h2v2h-2zM719 1313h2v2h-2zM746 1312h2v2h-2zM717 1303h2v2h-2zM738 1307h2v2h-2zM716 1302h2v2h-2zM724 1308h2v2h-2zM732 1311h2v2h-2zM746 1317h2v2h-2zM713 1313h2v2h-2zM695 1297h2v2h-2zM734 1310h2v2h-2zM696 1308h2v2h-2zM726 1306h2v2h-2zM701 1305h2v2h-2zM725 1306h2v2h-2zM700 1305h2v2h-2zM712 1303h2v2h-2zM734 1321h2v2h-2zM720 1314h2v2h-2zM732 1312h2v2h-2zM721 1311h2v2h-2zM733 1313h2v2h-2zM736 1317h2v2h-2zM694 1304h2v2h-2zM693 1292h2v2h-2zM743 1309h2v2h-2zM734 1313h2v2h-2zM698 1307h2v2h-2zM683 1296h2v2h-2zM707 1306h2v2h-2zM732 1307h2v2h-2zM718 1301h2v2h-2zM736 1307h2v2h-2zM695 1303h2v2h-2zM710 1307h2v2h-2zM741 1320h2v2h-2zM705 1294h2v2h-2zM727 1303h2v2h-2zM704 1298h2v2h-2zM708 1314h2v2h-2zM713 1299h2v2h-2zM719 1318h2v2h-2zM727 1304h2v2h-2zM738 1312h2v2h-2zM711 1303h2v2h-2zM707 1308h2v2h-2zM704 1310h2v2h-2zM725 1303h2v2h-2zM727 1313h2v2h-2zM736 1304h2v2h-2zM701 1306h2v2h-2zM684 1299h2v2h-2zM696 1303h2v2h-2zM721 1299h2v2h-2zM715 1308h2v2h-2zM721 1298h2v2h-2zM690 1301h2v2h-2zM700 1300h2v2h-2zM726 1317h2v2h-2zM711 1300h2v2h-2zM694 1293h2v2h-2zM697 1292h2v2h-2zM726 1309h2v2h-2zM739 1318h2v2h-2zM702 1301h2v2h-2zM738 1316h2v2h-2zM695 1306h2v2h-2zM701 1294h2v2h-2zM724 1305h2v2h-2zM712 1311h2v2h-2zM736 1309h2v2h-2zM737 1311h2v2h-2zM744 1312h2v2h-2zM687 1300h2v2h-2zM694 1300h2v2h-2zM725 1311h2v2h-2zM712 1312h2v2h-2zM737 1305h2v2h-2zM725 1317h2v2h-2zM707 1296h2v2h-2zM693 1303h2v2h-2zM691 1293h2v2h-2zM701 1299h2v2h-2zM729 1316h2v2h-2zM748 1320h2v2h-2zM693 1298h2v2h-2zM705 1302h2v2h-2zM748 1316h2v2h-2zM729 1317h2v2h-2zM736 1305h2v2h-2zM728 1308h2v2h-2zM742 1314h2v2h-2zM732 1309h2v2h-2zM699 1305h2v2h-2zM689 1294h2v2h-2zM690 1294h2v2h-2zM713 1306h2v2h-2zM725 1299h2v2h-2zM745 1318h2v2h-2zM731 1309h2v2h-2zM691 1302h2v2h-2zM738 1313h2v2h-2zM714 1304h2v2h-2zM715 1309h2v2h-2zM707 1301h2v2h-2zM703 1304h2v2h-2zM728 1319h2v2h-2zM726 1314h2v2h-2zM723 1300h2v2h-2zM714 1306h2v2h-2zM709 1305h2v2h-2zM711 1307h2v2h-2zM697 1293h2v2h-2zM719 1306h2v2h-2zM703 1312h2v2h-2zM705 1300h2v2h-2zM699 1301h2v2h-2zM738 1319h2v2h-2zM728 1307h2v2h-2zM692 1292h2v2h-2zM696 1300h2v2h-2zM691 1297h2v2h-2zM700 1304h2v2h-2zM687 1296h2v2h-2zM696 1305h2v2h-2zM718 1304h2v2h-2zM748 1318h2v2h-2zM703 1310h2v2h-2zM718 1300h2v2h-2zM703 1295h2v2h-2zM731 1315h2v2h-2zM703 1307h2v2h-2zM721 1306h2v2h-2zM736 1319h2v2h-2zM724 1313h2v2h-2zM710 1310h2v2h-2zM688 1303h2v2h-2zM712 1298h2v2h-2zM702 1305h2v2h-2zM714 1297h2v2h-2zM718 1318h2v2h-2zM693 1306h2v2h-2zM725 1300h2v2h-2zM698 1303h2v2h-2zM690 1297h2v2h-2zM692 1302h2v2h-2zM688 1297h2v2h-2zM741 1317h2v2h-2zM717 1298h2v2h-2zM717 1304h2v2h-2zM720 1298h2v2h-2zM720 1313h2v2h-2zM715 1312h2v2h-2zM741 1311h2v2h-2zM710 1306h2v2h-2zM699 1300h2v2h-2zM726 1313h2v2h-2zM698 1293h2v2h-2zM718 1314h2v2h-2zM710 1313h2v2h-2zM709 1313h2v2h-2zM748 1314h2v2h-2zM700 1301h2v2h-2zM684 1297h2v2h-2zM695 1307h2v2h-2zM712 1302h2v2h-2zM701 1302h2v2h-2zM692 1295h2v2h-2zM712 1296h2v2h-2zM719 1309h2v2h-2zM726 1316h2v2h-2zM694 1296h2v2h-2zM743 1315h2v2h-2zM700 1307h2v2h-2zM701 1300h2v2h-2zM702 1295h2v2h-2zM717 1315h2v2h-2zM686 1302h2v2h-2zM706 1300h2v2h-2zM719 1311h2v2h-2zM720 1302h2v2h-2zM737 1314h2v2h-2zM740 1315h2v2h-2zM687 1297h2v2h-2zM728 1302h2v2h-2zM684 1298h2v2h-2zM726 1312h2v2h-2zM713 1311h2v2h-2zM740 1317h2v2h-2zM696 1298h2v2h-2zM710 1300h2v2h-2zM691 1303h2v2h-2zM745 1311h2v2h-2zM716 1311h2v2h-2zM720 1312h2v2h-2zM721 1318h2v2h-2zM706 1294h2v2h-2zM723 1299h2v2h-2zM739 1313h2v2h-2zM687 1295h2v2h-2zM698 1304h2v2h-2zM740 1313h2v2h-2zM727 1312h2v2h-2zM710 1304h2v2h-2zM706 1311h2v2h-2zM698 1310h2v2h-2zM743 1314h2v2h-2zM750 1316h2v2h-2zM735 1311h2v2h-2zM698 1306h2v2h-2zM705 1305h2v2h-2zM732 1304h2v2h-2zM739 1314h2v2h-2zM720 1303h2v2h-2zM692 1300h2v2h-2zM704 1312h2v2h-2zM731 1311h2v2h-2zM719 1299h2v2h-2zM722 1316h2v2h-2zM716 1303h2v2h-2zM706 1296h2v2h-2zM688 1292h2v2h-2zM738 1311h2v2h-2zM685 1295h2v2h-2zM720 1307h2v2h-2zM729 1319h2v2h-2zM735 1321h2v2h-2zM742 1319h2v2h-2zM714 1313h2v2h-2zM690 1292h2v2h-2zM723 1311h2v2h-2zM718 1305h2v2h-2zM708 1302h2v2h-2zM695 1294h2v2h-2zM735 1304h2v2h-2zM709 1308h2v2h-2zM748 1315h2v2h-2zM701 1303h2v2h-2zM705 1296h2v2h-2zM727 1302h2v2h-2zM730 1305h2v2h-2zM688 1293h2v2h-2zM708 1295h2v2h-2zM712 1308h2v2h-2zM702 1298h2v2h-2zM721 1304h2v2h-2zM719 1301h2v2h-2zM690 1298h2v2h-2zM688 1300h2v2h-2zM747 1316h2v2h-2zM716 1300h2v2h-2zM693 1299h2v2h-2zM699 1298h2v2h-2zM707 1299h2v2h-2zM685 1300h2v2h-2zM735 1315h2v2h-2zM741 1313h2v2h-2zM716 1298h2v2h-2zM732 1317h2v2h-2zM727 1318h2v2h-2zM729 1301h2v2h-2zM704 1309h2v2h-2zM714 1312h2v2h-2zM692 1293h2v2h-2zM731 1317h2v2h-2zM727 1311h2v2h-2zM710 1311h2v2h-2zM741 1315h2v2h-2zM713 1302h2v2h-2zM694 1301h2v2h-2zM717 1300h2v2h-2zM739 1308h2v2h-2zM713 1307h2v2h-2zM718 1307h2v2h-2zM719 1307h2v2h-2zM736 1308h2v2h-2zM727 1317h2v2h-2zM717 1313h2v2h-2zM705 1303h2v2h-2zM709 1310h2v2h-2zM730 1319h2v2h-2zM718 1308h2v2h-2zM697 1300h2v2h-2zM738 1309h2v2h-2zM746 1320h2v2h-2zM719 1297h2v2h-2zM697 1296h2v2h-2zM692 1303h2v2h-2zM735 1312h2v2h-2zM741 1322h2v2h-2zM730 1306h2v2h-2zM738 1310h2v2h-2zM724 1311h2v2h-2zM691 1294h2v2h-2zM716 1315h2v2h-2zM738 1318h2v2h-2zM751 1317h2v2h-2zM696 1307h2v2h-2zM706 1304h2v2h-2zM721 1307h2v2h-2zM709 1301h2v2h-2zM750 1315h2v2h-2zM711 1314h2v2h-2zM726 1305h2v2h-2zM717 1305h2v2h-2zM719 1304h2v2h-2zM716 1306h2v2h-2zM704 1296h2v2h-2zM744 1315h2v2h-2zM721 1312h2v2h-2zM685 1296h2v2h-2zM707 1310h2v2h-2zM690 1299h2v2h-2zM723 1305h2v2h-2zM686 1299h2v2h-2zM735 1317h2v2h-2zM724 1316h2v2h-2zM709 1302h2v2h-2zM709 1300h2v2h-2zM693 1305h2v2h-2zM699 1297h2v2h-2zM708 1312h2v2h-2zM710 1305h2v2h-2zM737 1319h2v2h-2zM739 1317h2v2h-2zM726 1308h2v2h-2zM719 1315h2v2h-2zM709 1303h2v2h-2zM718 1310h2v2h-2zM704 1301h2v2h-2zM695 1292h2v2h-2zM707 1307h2v2h-2zM724 1320h2v2h-2zM701 1310h2v2h-2zM742 1315h2v2h-2zM686 1298h2v2h-2zM687 1302h2v2h-2zM710 1302h2v2h-2zM702 1309h2v2h-2zM728 1315h2v2h-2zM702 1300h2v2h-2zM710 1299h2v2h-2zM697 1306h2v2h-2zM718 1315h2v2h-2zM738 1305h2v2h-2zM736 1315h2v2h-2zM706 1302h2v2h-2zM723 1313h2v2h-2zM705 1301h2v2h-2zM695 1293h2v2h-2zM701 1296h2v2h-2zM708 1311h2v2h-2zM716 1312h2v2h-2zM691 1296h2v2h-2zM711 1311h2v2h-2zM739 1309h2v2h-2zM694 1305h2v2h-2zM726 1315h2v2h-2zM720 1315h2v2h-2zM713 1309h2v2h-2zM725 1309h2v2h-2zM712 1297h2v2h-2zM734 1304h2v2h-2zM707 1309h2v2h-2zM743 1317h2v2h-2zM729 1320h2v2h-2zM735 1318h2v2h-2zM711 1302h2v2h-2zM723 1310h2v2h-2zM706 1301h2v2h-2zM747 1320h2v2h-2zM705 1311h2v2h-2zM722 1304h2v2h-2zM731 1320h2v2h-2zM714 1309h2v2h-2zM715 1303h2v2h-2zM747 1322h2v2h-2zM733 1320h2v2h-2zM743 1318h2v2h-2zM720 1306h2v2h-2zM698 1305h2v2h-2zM736 1313h2v2h-2zM712 1295h2v2h-2zM703 1299h2v2h-2zM736 1318h2v2h-2zM706 1303h2v2h-2zM712 1299h2v2h-2zM713 1304h2v2h-2zM706 1312h2v2h-2zM744 1310h2v2h-2zM739 1306h2v2h-2zM727 1319h2v2h-2zM711 1299h2v2h-2zM739 1312h2v2h-2zM739 1316h2v2h-2zM705 1295h2v2h-2zM733 1307h2v2h-2zM698 1308h2v2h-2zM697 1307h2v2h-2zM707 1295h2v2h-2zM720 1308h2v2h-2zM708 1310h2v2h-2zM689 1299h2v2h-2zM704 1303h2v2h-2zM744 1322h2v2h-2zM710 1296h2v2h-2zM695 1308h2v2h-2zM723 1317h2v2h-2zM716 1301h2v2h-2zM707 1300h2v2h-2zM720 1301h2v2h-2zM717 1299h2v2h-2zM743 1310h2v2h-2zM689 1298h2v2h-2zM707 1312h2v2h-2zM745 1321h2v2h-2zM730 1312h2v2h-2zM720 1317h2v2h-2zM714 1315h2v2h-2zM744 1317h2v2h-2zM717 1296h2v2h-2zM717 1316h2v2h-2zM738 1321h2v2h-2zM723 1302h2v2h-2zM692 1297h2v2h-2zM752 1318h2v2h-2zM738 1322h2v2h-2zM742 1308h2v2h-2zM750 1318h2v2h-2zM707 1298h2v2h-2zM729 1308h2v2h-2zM739 1311h2v2h-2zM710 1312h2v2h-2zM690 1300h2v2h-2zM720 1318h2v2h-2zM725 1318h2v2h-2zM706 1306h2v2h-2zM708 1304h2v2h-2zM741 1319h2v2h-2zM720 1304h2v2h-2zM691 1300h2v2h-2zM722 1301h2v2h-2zM700 1310h2v2h-2zM735 1305h2v2h-2zM707 1294h2v2h-2zM705 1304h2v2h-2zM713 1308h2v2h-2zM692 1294h2v2h-2zM740 1311h2v2h-2zM718 1312h2v2h-2zM745 1317h2v2h-2zM733 1315h2v2h-2zM744 1313h2v2h-2zM691 1305h2v2h-2zM739 1315h2v2h-2zM696 1297h2v2h-2zM719 1298h2v2h-2zM714 1302h2v2h-2zM695 1300h2v2h-2zM687 1293h2v2h-2zM745 1315h2v2h-2zM735 1307h2v2h-2zM724 1312h2v2h-2zM715 1297h2v2h-2zM721 1313h2v2h-2zM749 1321h2v2h-2zM750 1320h2v2h-2zM717 1306h2v2h-2zM734 1315h2v2h-2zM701 1297h2v2h-2zM733 1306h2v2h-2zM685 1294h2v2h-2zM683 1294h2v2h-2zM702 1293h2v2h-2zM733 1317h2v2h-2zM730 1309h2v2h-2zM707 1313h2v2h-2zM731 1303h2v2h-2zM691 1299h2v2h-2zM733 1304h2v2h-2zM708 1299h2v2h-2zM738 1306h2v2h-2zM697 1301h2v2h-2zM711 1295h2v2h-2zM717 1301h2v2h-2zM706 1310h2v2h-2zM710 1297h2v2h-2zM688 1296h2v2h-2zM692 1296h2v2h-2zM708 1294h2v2h-2zM732 1315h2v2h-2zM737 1320h2v2h-2zM732 1314h2v2h-2zM710 1308h2v2h-2zM712 1306h2v2h-2zM734 1305h2v2h-2zM748 1322h2v2h-2zM711 1313h2v2h-2zM698 1297h2v2h-2zM720 1309h2v2h-2zM691 1306h2v2h-2zM690 1305h2v2h-2zM746 1322h2v2h-2zM735 1313h2v2h-2zM696 1302h2v2h-2zM684 1296h2v2h-2zM747 1317h2v2h-2zM696 1293h2v2h-2zM695 1296h2v2h-2zM708 1313h2v2h-2zM712 1291h2v2h-2zM725 1305h2v2h-2zM712 1305h2v2h-2zM725 1307h2v2h-2zM754 1313h2v2h-2zM715 1305h2v2h-2zM707 1303h2v2h-2zM720 1310h2v2h-2zM715 1307h2v2h-2zM711 1309h2v2h-2zM715 1315h2v2h-2zM697 1302h2v2h-2zM736 1320h2v2h-2zM726 1322h2v2h-2zM687 1308h2v2h-2zM723 1303h2v2h-2zM724 1317h2v2h-2zM716 1310h2v2h-2zM716 1316h2v2h-2zM728 1321h2v2h-2zM725 1315h2v2h-2zM674 1306h2v2h-2zM719 1312h2v2h-2zM746 1315h2v2h-2zM721 1309h2v2h-2zM709 1309h2v2h-2zM690 1307h2v2h-2zM698 1311h2v2h-2zM708 1300h2v2h-2zM722 1308h2v2h-2zM718 1311h2v2h-2zM702 1310h2v2h-2zM707 1305h2v2h-2zM694 1302h2v2h-2zM708 1305h2v2h-2zM734 1314h2v2h-2zM736 1312h2v2h-2zM703 1303h2v2h-2zM704 1308h2v2h-2zM741 1312h2v2h-2zM723 1309h2v2h-2zM754 1319h2v2h-2zM743 1321h2v2h-2zM704 1311h2v2h-2zM728 1320h2v2h-2zM744 1321h2v2h-2zM717 1312h2v2h-2zM729 1311h2v2h-2zM720 1305h2v2h-2zM700 1303h2v2h-2zM701 1307h2v2h-2zM700 1298h2v2h-2zM720 1311h2v2h-2zM712 1307h2v2h-2zM719 1314h2v2h-2zM713 1303h2v2h-2zM684 1289h2v2h-2zM690 1296h2v2h-2zM727 1309h2v2h-2zM677 1304h2v2h-2zM713 1317h2v2h-2zM725 1320h2v2h-2zM701 1292h2v2h-2zM714 1308h2v2h-2zM710 1309h2v2h-2zM735 1301h2v2h-2zM723 1306h2v2h-2zM733 1316h2v2h-2zM710 1318h2v2h-2zM700 1308h2v2h-2zM681 1300h2v2h-2zM745 1314h2v2h-2zM716 1314h2v2h-2zM695 1298h2v2h-2zM703 1305h2v2h-2zM715 1306h2v2h-2zM716 1304h2v2h-2zM714 1303h2v2h-2zM745 1313h2v2h-2zM734 1312h2v2h-2zM719 1303h2v2h-2zM723 1304h2v2h-2zM704 1300h2v2h-2zM735 1303h2v2h-2zM711 1301h2v2h-2zM728 1304h2v2h-2zM746 1324h2v2h-2zM708 1308h2v2h-2zM722 1307h2v2h-2zM729 1312h2v2h-2zM713 1310h2v2h-2zM742 1312h2v2h-2zM698 1300h2v2h-2zM724 1314h2v2h-2zM722 1312h2v2h-2zM727 1315h2v2h-2zM701 1314h2v2h-2zM714 1310h2v2h-2zM695 1312h2v2h-2zM714 1307h2v2h-2zM686 1308h2v2h-2zM725 1313h2v2h-2zM723 1307h2v2h-2zM713 1312h2v2h-2zM731 1312h2v2h-2zM702 1311h2v2h-2zM699 1303h2v2h-2zM699 1310h2v2h-2zM740 1323h2v2h-2zM690 1288h2v2h-2zM677 1305h2v2h-2zM698 1302h2v2h-2zM686 1300h2v2h-2zM691 1295h2v2h-2zM723 1314h2v2h-2zM702 1296h2v2h-2zM711 1305h2v2h-2zM687 1298h2v2h-2zM737 1329h2v2h-2zM707 1315h2v2h-2zM728 1316h2v2h-2zM727 1310h2v2h-2zM685 1301h2v2h-2zM699 1306h2v2h-2zM711 1315h2v2h-2zM746 1313h2v2h-2zM709 1306h2v2h-2zM726 1307h2v2h-2zM695 1304h2v2h-2zM726 1303h2v2h-2zM707 1304h2v2h-2zM687 1301h2v2h-2zM717 1311h2v2h-2zM722 1321h2v2h-2zM728 1310h2v2h-2zM690 1308h2v2h-2zM709 1315h2v2h-2zM709 1307h2v2h-2zM740 1316h2v2h-2zM712 1309h2v2h-2zM685 1303h2v2h-2zM698 1309h2v2h-2zM727 1321h2v2h-2zM688 1309h2v2h-2zM714 1305h2v2h-2zM709 1299h2v2h-2zM683 1303h2v2h-2zM682 1301h2v2h-2zM711 1308h2v2h-2zM704 1299h2v2h-2zM702 1303h2v2h-2zM749 1302h2v2h-2zM766 1304h2v2h-2zM750 1305h2v2h-2zM763 1307h2v2h-2zM746 1301h2v2h-2zM747 1303h2v2h-2zM753 1302h2v2h-2zM754 1307h2v2h-2zM742 1305h2v2h-2zM767 1307h2v2h-2zM758 1300h2v2h-2zM736 1311h2v2h-2zM761 1308h2v2h-2zM759 1308h2v2h-2zM746 1298h2v2h-2zM756 1301h2v2h-2zM756 1299h2v2h-2zM760 1302h2v2h-2zM761 1302h2v2h-2zM761 1307h2v2h-2zM739 1301h2v2h-2zM745 1301h2v2h-2zM740 1307h2v2h-2zM741 1299h2v2h-2zM755 1305h2v2h-2zM766 1302h2v2h-2zM757 1304h2v2h-2zM761 1305h2v2h-2zM737 1299h2v2h-2zM762 1306h2v2h-2zM743 1305h2v2h-2zM753 1307h2v2h-2zM746 1309h2v2h-2zM742 1302h2v2h-2zM761 1304h2v2h-2zM736 1298h2v2h-2zM738 1300h2v2h-2zM736 1302h2v2h-2zM737 1303h2v2h-2zM739 1302h2v2h-2zM759 1299h2v2h-2zM758 1305h2v2h-2zM757 1305h2v2h-2zM751 1302h2v2h-2zM740 1309h2v2h-2zM760 1309h2v2h-2zM766 1305h2v2h-2zM765 1304h2v2h-2zM751 1300h2v2h-2zM760 1306h2v2h-2zM748 1304h2v2h-2zM735 1299h2v2h-2zM738 1301h2v2h-2zM763 1305h2v2h-2zM765 1306h2v2h-2zM763 1304h2v2h-2zM753 1310h2v2h-2zM759 1307h2v2h-2zM745 1298h2v2h-2zM766 1301h2v2h-2zM759 1301h2v2h-2zM758 1303h2v2h-2zM755 1307h2v2h-2zM759 1304h2v2h-2zM748 1302h2v2h-2zM748 1301h2v2h-2zM752 1305h2v2h-2zM759 1302h2v2h-2zM767 1302h2v2h-2zM760 1305h2v2h-2zM760 1303h2v2h-2zM765 1302h2v2h-2zM751 1306h2v2h-2zM747 1311h2v2h-2zM748 1310h2v2h-2zM753 1309h2v2h-2zM742 1300h2v2h-2zM754 1301h2v2h-2zM738 1298h2v2h-2zM754 1305h2v2h-2zM764 1304h2v2h-2zM745 1299h2v2h-2zM754 1310h2v2h-2zM738 1308h2v2h-2zM755 1301h2v2h-2zM748 1303h2v2h-2zM744 1304h2v2h-2zM749 1300h2v2h-2zM749 1304h2v2h-2zM767 1301h2v2h-2zM751 1307h2v2h-2zM756 1304h2v2h-2zM765 1307h2v2h-2zM752 1307h2v2h-2zM744 1298h2v2h-2zM761 1301h2v2h-2zM752 1300h2v2h-2zM761 1306h2v2h-2zM736 1299h2v2h-2zM752 1299h2v2h-2zM734 1301h2v2h-2zM756 1306h2v2h-2zM751 1304h2v2h-2zM740 1299h2v2h-2zM741 1305h2v2h-2zM754 1299h2v2h-2zM751 1303h2v2h-2zM745 1302h2v2h-2zM750 1299h2v2h-2zM746 1303h2v2h-2zM740 1304h2v2h-2zM756 1300h2v2h-2zM757 1299h2v2h-2zM760 1308h2v2h-2zM764 1301h2v2h-2zM753 1305h2v2h-2zM745 1303h2v2h-2zM767 1304h2v2h-2zM742 1309h2v2h-2zM766 1307h2v2h-2zM755 1310h2v2h-2zM745 1304h2v2h-2zM745 1305h2v2h-2zM736 1306h2v2h-2zM765 1300h2v2h-2zM746 1299h2v2h-2zM750 1308h2v2h-2zM744 1307h2v2h-2zM739 1299h2v2h-2zM742 1311h2v2h-2zM776 1303h2v2h-2zM769 1298h2v2h-2zM794 1301h2v2h-2zM764 1297h2v2h-2zM764 1298h2v2h-2zM780 1305h2v2h-2zM782 1304h2v2h-2zM778 1301h2v2h-2zM778 1304h2v2h-2zM788 1305h2v2h-2zM768 1309h2v2h-2zM792 1298h2v2h-2zM765 1296h2v2h-2zM766 1297h2v2h-2zM785 1307h2v2h-2zM784 1304h2v2h-2zM777 1306h2v2h-2zM777 1308h2v2h-2zM764 1307h2v2h-2zM789 1301h2v2h-2zM774 1309h2v2h-2zM793 1304h2v2h-2zM768 1310h2v2h-2zM789 1302h2v2h-2zM699 1286h2v2h-2zM715 1283h2v2h-2zM691 1287h2v2h-2zM691 1281h2v2h-2zM701 1280h2v2h-2zM711 1286h2v2h-2zM714 1291h2v2h-2zM700 1291h2v2h-2zM700 1283h2v2h-2zM696 1290h2v2h-2zM692 1287h2v2h-2zM695 1278h2v2h-2zM702 1288h2v2h-2zM713 1285h2v2h-2zM693 1289h2v2h-2zM708 1291h2v2h-2zM689 1290h2v2h-2zM702 1281h2v2h-2zM714 1289h2v2h-2zM712 1283h2v2h-2zM702 1287h2v2h-2zM697 1283h2v2h-2zM688 1287h2v2h-2zM715 1287h2v2h-2zM693 1281h2v2h-2zM711 1282h2v2h-2zM715 1285h2v2h-2zM691 1280h2v2h-2zM713 1289h2v2h-2zM687 1288h2v2h-2zM710 1293h2v2h-2zM710 1283h2v2h-2zM738 1326h2v2h-2zM743 1322h2v2h-2zM736 1322h2v2h-2zM737 1327h2v2h-2zM739 1319h2v2h-2zM737 1323h2v2h-2zM737 1325h2v2h-2zM740 1327h2v2h-2zM755 1314h2v2h-2zM781 1297h2v2h-2zM682 1274h2v2h-2zM681 1288h2v2h-2zM719 1284h2v2h-2zM686 1282h2v2h-2zM719 1290h2v2h-2zM681 1278h2v2h-2zM695 1277h2v2h-2zM764 1338h2v2h-2zM763 1337h2v2h-2zM672 1267h2v2h-2zM663 1275h2v2h-2zM880 1285h2v2h-2zM814 1299h2v2h-2zM825 1304h2v2h-2zM807 1302h2v2h-2zM750 1336h2v2h-2zM739 1286h2v2h-2zM846 1305h2v2h-2z"/><path fill="#959595" d="M751 1325h2v2h-2zM678 1296h2v2h-2zM680 1312h2v2h-2zM724 1326h2v2h-2zM699 1315h2v2h-2zM756 1319h2v2h-2zM773 1303h2v2h-2zM782 1298h2v2h-2zM793 1307h2v2h-2zM791 1297h2v2h-2zM720 1286h2v2h-2zM687 1282h2v2h-2zM709 1287h2v2h-2zM681 1284h2v2h-2zM761 1330h2v2h-2zM744 1329h2v2h-2zM660 1265h2v2h-2zM684 1264h2v2h-2zM861 1295h2v2h-2zM821 1311h2v2h-2zM812 1308h2v2h-2zM756 1337h2v2h-2zM768 1338h2v2h-2zM739 1332h2v2h-2zM814 1296h2v2h-2zM816 1315h2v2h-2zM820 1298h2v2h-2z"/><path fill="#0000ff" d="M511 1146h2v2h-2zM512 1154h2v2h-2zM534 1154h2v2h-2zM496 1145h2v2h-2zM477 1132h2v2h-2zM522 1160h2v2h-2zM513 1150h2v2h-2zM501 1134h2v2h-2zM511 1138h2v2h-2zM539 1167h2v2h-2zM510 1146h2v2h-2zM495 1154h2v2h-2zM520 1148h2v2h-2zM516 1149h2v2h-2zM514 1152h2v2h-2zM517 1140h2v2h-2zM493 1126h2v2h-2zM516 1161h2v2h-2zM530 1144h2v2h-2zM522 1147h2v2h-2zM506 1155h2v2h-2zM508 1145h2v2h-2zM511 1152h2v2h-2zM510 1147h2v2h-2zM484 1127h2v2h-2zM509 1139h2v2h-2zM532 1152h2v2h-2zM506 1136h2v2h-2zM499 1149h2v2h-2zM520 1150h2v2h-2zM515 1134h2v2h-2zM497 1145h2v2h-2zM514 1142h2v2h-2zM540 1151h2v2h-2zM540 1159h2v2h-2zM517 1132h2v2h-2zM509 1137h2v2h-2zM530 1153h2v2h-2zM521 1136h2v2h-2zM517 1157h2v2h-2zM486 1146h2v2h-2zM484 1143h2v2h-2zM510 1139h2v2h-2zM491 1140h2v2h-2zM526 1143h2v2h-2zM523 1163h2v2h-2zM536 1152h2v2h-2zM511 1149h2v2h-2zM544 1156h2v2h-2zM536 1141h2v2h-2zM521 1132h2v2h-2zM523 1149h2v2h-2zM498 1152h2v2h-2zM529 1148h2v2h-2zM518 1150h2v2h-2zM541 1150h2v2h-2zM517 1156h2v2h-2zM506 1148h2v2h-2zM502 1144h2v2h-2zM496 1157h2v2h-2zM515 1141h2v2h-2zM481 1129h2v2h-2zM492 1137h2v2h-2zM526 1145h2v2h-2zM476 1130h2v2h-2zM482 1141h2v2h-2zM499 1145h2v2h-2zM507 1130h2v2h-2zM513 1140h2v2h-2zM519 1132h2v2h-2zM519 1152h2v2h-2zM500 1142h2v2h-2zM510 1148h2v2h-2zM499 1136h2v2h-2zM520 1149h2v2h-2zM519 1147h2v2h-2zM479 1131h2v2h-2zM490 1142h2v2h-2zM546 1149h2v2h-2zM473 1141h2v2h-2zM511 1147h2v2h-2zM491 1134h2v2h-2zM509 1134h2v2h-2zM500 1143h2v2h-2zM509 1152h2v2h-2zM491 1139h2v2h-2zM526 1159h2v2h-2zM547 1160h2v2h-2zM465 1141h2v2h-2zM499 1129h2v2h-2zM485 1132h2v2h-2zM512 1145h2v2h-2zM534 1153h2v2h-2zM535 1150h2v2h-2zM534 1148h2v2h-2zM519 1129h2v2h-2zM498 1149h2v2h-2zM528 1155h2v2h-2zM501 1137h2v2h-2zM497 1140h2v2h-2zM487 1145h2v2h-2zM508 1141h2v2h-2zM492 1148h2v2h-2zM513 1141h2v2h-2zM529 1142h2v2h-2zM504 1129h2v2h-2zM518 1149h2v2h-2zM528 1144h2v2h-2zM496 1144h2v2h-2zM507 1151h2v2h-2zM503 1145h2v2h-2zM539 1164h2v2h-2zM503 1139h2v2h-2zM514 1139h2v2h-2zM485 1139h2v2h-2zM495 1138h2v2h-2zM517 1159h2v2h-2zM509 1130h2v2h-2zM526 1140h2v2h-2zM509 1154h2v2h-2zM557 1151h2v2h-2zM507 1141h2v2h-2zM528 1145h2v2h-2zM498 1140h2v2h-2zM499 1157h2v2h-2zM482 1144h2v2h-2zM556 1157h2v2h-2zM515 1138h2v2h-2zM502 1143h2v2h-2zM520 1162h2v2h-2zM504 1132h2v2h-2zM545 1147h2v2h-2zM532 1143h2v2h-2zM521 1144h2v2h-2zM518 1152h2v2h-2zM526 1160h2v2h-2zM516 1155h2v2h-2zM536 1162h2v2h-2zM526 1151h2v2h-2zM512 1140h2v2h-2zM521 1140h2v2h-2zM515 1145h2v2h-2zM534 1144h2v2h-2zM510 1134h2v2h-2zM512 1149h2v2h-2zM492 1132h2v2h-2zM524 1146h2v2h-2zM512 1161h2v2h-2zM541 1157h2v2h-2zM513 1143h2v2h-2zM494 1132h2v2h-2zM531 1154h2v2h-2zM510 1141h2v2h-2zM458 1128h2v2h-2zM519 1142h2v2h-2zM513 1147h2v2h-2zM513 1127h2v2h-2zM500 1133h2v2h-2zM514 1144h2v2h-2zM479 1149h2v2h-2zM511 1136h2v2h-2zM527 1157h2v2h-2zM501 1150h2v2h-2zM546 1150h2v2h-2zM515 1152h2v2h-2zM504 1144h2v2h-2zM514 1146h2v2h-2zM530 1136h2v2h-2zM497 1136h2v2h-2zM503 1129h2v2h-2zM490 1145h2v2h-2zM497 1143h2v2h-2zM503 1155h2v2h-2zM547 1143h2v2h-2zM519 1134h2v2h-2zM533 1148h2v2h-2zM512 1146h2v2h-2zM526 1155h2v2h-2zM496 1130h2v2h-2zM496 1125h2v2h-2zM546 1146h2v2h-2zM487 1129h2v2h-2zM524 1142h2v2h-2zM507 1149h2v2h-2zM506 1147h2v2h-2zM527 1145h2v2h-2zM532 1154h2v2h-2zM517 1141h2v2h-2zM501 1151h2v2h-2zM488 1137h2v2h-2zM509 1128h2v2h-2zM487 1138h2v2h-2zM509 1143h2v2h-2zM521 1143h2v2h-2zM521 1150h2v2h-2zM536 1155h2v2h-2zM522 1144h2v2h-2zM509 1148h2v2h-2zM545 1158h2v2h-2zM528 1151h2v2h-2zM502 1140h2v2h-2zM537 1154h2v2h-2zM493 1145h2v2h-2zM517 1143h2v2h-2zM538 1157h2v2h-2zM514 1158h2v2h-2zM531 1148h2v2h-2zM501 1135h2v2h-2zM491 1135h2v2h-2zM490 1143h2v2h-2zM505 1146h2v2h-2zM517 1149h2v2h-2zM494 1134h2v2h-2zM517 1129h2v2h-2zM522 1141h2v2h-2zM528 1161h2v2h-2zM529 1147h2v2h-2zM496 1146h2v2h-2zM520 1153h2v2h-2zM497 1141h2v2h-2zM503 1138h2v2h-2zM506 1146h2v2h-2zM517 1147h2v2h-2zM478 1146h2v2h-2zM509 1144h2v2h-2zM535 1151h2v2h-2zM483 1148h2v2h-2zM536 1154h2v2h-2zM522 1164h2v2h-2zM527 1131h2v2h-2zM517 1135h2v2h-2zM488 1134h2v2h-2zM511 1155h2v2h-2zM491 1152h2v2h-2zM513 1149h2v2h-2zM499 1137h2v2h-2zM494 1130h2v2h-2zM510 1150h2v2h-2zM529 1154h2v2h-2zM504 1140h2v2h-2zM512 1155h2v2h-2zM522 1142h2v2h-2zM488 1142h2v2h-2zM504 1134h2v2h-2zM517 1150h2v2h-2zM514 1137h2v2h-2zM541 1156h2v2h-2zM517 1163h2v2h-2zM497 1138h2v2h-2zM520 1160h2v2h-2zM528 1162h2v2h-2zM520 1158h2v2h-2zM521 1146h2v2h-2zM489 1129h2v2h-2zM520 1154h2v2h-2zM505 1140h2v2h-2zM507 1138h2v2h-2zM521 1139h2v2h-2zM500 1127h2v2h-2zM510 1142h2v2h-2zM523 1158h2v2h-2zM505 1154h2v2h-2zM493 1132h2v2h-2zM498 1139h2v2h-2zM523 1153h2v2h-2zM501 1142h2v2h-2zM519 1154h2v2h-2zM515 1151h2v2h-2zM509 1140h2v2h-2zM487 1147h2v2h-2zM503 1147h2v2h-2zM534 1156h2v2h-2zM515 1143h2v2h-2zM529 1157h2v2h-2zM508 1155h2v2h-2zM493 1144h2v2h-2zM522 1131h2v2h-2zM495 1146h2v2h-2zM495 1145h2v2h-2zM529 1151h2v2h-2zM492 1146h2v2h-2zM554 1146h2v2h-2zM503 1137h2v2h-2zM495 1135h2v2h-2zM516 1137h2v2h-2zM512 1143h2v2h-2zM531 1138h2v2h-2zM541 1154h2v2h-2zM486 1148h2v2h-2zM487 1142h2v2h-2zM503 1140h2v2h-2zM525 1148h2v2h-2zM513 1145h2v2h-2zM513 1156h2v2h-2zM507 1137h2v2h-2zM535 1148h2v2h-2zM542 1164h2v2h-2zM534 1143h2v2h-2zM514 1131h2v2h-2zM511 1143h2v2h-2zM506 1133h2v2h-2zM498 1137h2v2h-2zM522 1157h2v2h-2zM516 1134h2v2h-2zM518 1148h2v2h-2zM495 1151h2v2h-2zM492 1131h2v2h-2zM494 1145h2v2h-2zM513 1151h2v2h-2zM492 1133h2v2h-2zM521 1147h2v2h-2zM501 1149h2v2h-2zM516 1142h2v2h-2zM493 1128h2v2h-2zM474 1136h2v2h-2zM530 1152h2v2h-2zM506 1149h2v2h-2zM497 1151h2v2h-2zM536 1161h2v2h-2zM546 1162h2v2h-2zM513 1155h2v2h-2zM553 1166h2v2h-2zM500 1139h2v2h-2zM532 1147h2v2h-2zM530 1140h2v2h-2zM501 1138h2v2h-2zM493 1140h2v2h-2zM512 1150h2v2h-2zM516 1147h2v2h-2zM557 1152h2v2h-2zM490 1149h2v2h-2zM517 1134h2v2h-2zM495 1148h2v2h-2zM525 1150h2v2h-2zM489 1134h2v2h-2zM503 1144h2v2h-2zM508 1157h2v2h-2zM524 1144h2v2h-2zM519 1150h2v2h-2zM522 1149h2v2h-2zM512 1148h2v2h-2zM529 1145h2v2h-2zM498 1132h2v2h-2zM507 1156h2v2h-2zM509 1145h2v2h-2zM499 1148h2v2h-2zM535 1157h2v2h-2zM514 1135h2v2h-2zM508 1125h2v2h-2zM547 1153h2v2h-2zM530 1163h2v2h-2zM504 1147h2v2h-2zM525 1153h2v2h-2zM484 1130h2v2h-2zM526 1148h2v2h-2zM520 1131h2v2h-2zM519 1143h2v2h-2zM480 1145h2v2h-2zM538 1148h2v2h-2zM487 1149h2v2h-2zM527 1150h2v2h-2zM502 1141h2v2h-2zM507 1153h2v2h-2zM513 1139h2v2h-2zM532 1145h2v2h-2zM521 1138h2v2h-2zM498 1134h2v2h-2zM507 1126h2v2h-2zM529 1169h2v2h-2zM533 1156h2v2h-2zM499 1156h2v2h-2zM530 1138h2v2h-2zM494 1137h2v2h-2zM526 1146h2v2h-2zM502 1138h2v2h-2zM492 1128h2v2h-2zM523 1142h2v2h-2zM516 1162h2v2h-2zM508 1146h2v2h-2zM517 1152h2v2h-2zM499 1150h2v2h-2zM514 1138h2v2h-2zM502 1148h2v2h-2zM500 1145h2v2h-2zM512 1166h2v2h-2zM516 1154h2v2h-2zM505 1144h2v2h-2zM498 1144h2v2h-2zM472 1133h2v2h-2zM510 1153h2v2h-2zM504 1150h2v2h-2zM508 1139h2v2h-2zM486 1135h2v2h-2zM504 1146h2v2h-2zM507 1157h2v2h-2zM506 1127h2v2h-2zM486 1131h2v2h-2zM523 1140h2v2h-2zM506 1144h2v2h-2zM506 1141h2v2h-2zM520 1134h2v2h-2zM542 1146h2v2h-2zM512 1137h2v2h-2zM524 1134h2v2h-2zM545 1146h2v2h-2zM529 1158h2v2h-2zM511 1145h2v2h-2zM528 1147h2v2h-2zM495 1149h2v2h-2zM500 1151h2v2h-2zM502 1135h2v2h-2zM506 1140h2v2h-2zM524 1140h2v2h-2zM511 1151h2v2h-2zM516 1153h2v2h-2zM513 1160h2v2h-2zM504 1141h2v2h-2zM496 1129h2v2h-2zM524 1148h2v2h-2zM531 1145h2v2h-2zM541 1162h2v2h-2zM528 1139h2v2h-2zM522 1143h2v2h-2zM504 1137h2v2h-2zM497 1142h2v2h-2zM512 1153h2v2h-2zM485 1140h2v2h-2zM489 1127h2v2h-2zM524 1137h2v2h-2zM483 1130h2v2h-2zM531 1152h2v2h-2zM488 1138h2v2h-2zM515 1132h2v2h-2zM507 1133h2v2h-2zM506 1152h2v2h-2zM492 1150h2v2h-2zM503 1136h2v2h-2zM489 1153h2v2h-2zM470 1128h2v2h-2zM526 1142h2v2h-2zM508 1151h2v2h-2zM493 1147h2v2h-2zM498 1151h2v2h-2zM489 1142h2v2h-2zM512 1144h2v2h-2zM536 1166h2v2h-2zM512 1136h2v2h-2zM538 1149h2v2h-2zM539 1146h2v2h-2zM528 1149h2v2h-2zM527 1146h2v2h-2zM505 1131h2v2h-2zM530 1162h2v2h-2zM515 1137h2v2h-2zM511 1134h2v2h-2zM471 1138h2v2h-2zM508 1142h2v2h-2zM554 1156h2v2h-2zM518 1161h2v2h-2zM543 1148h2v2h-2zM517 1136h2v2h-2zM488 1131h2v2h-2zM514 1140h2v2h-2zM541 1155h2v2h-2zM503 1151h2v2h-2zM507 1136h2v2h-2zM488 1151h2v2h-2zM478 1132h2v2h-2zM499 1134h2v2h-2zM490 1152h2v2h-2zM503 1143h2v2h-2zM478 1131h2v2h-2zM518 1137h2v2h-2zM493 1137h2v2h-2zM507 1155h2v2h-2zM540 1156h2v2h-2zM476 1133h2v2h-2zM514 1161h2v2h-2zM506 1138h2v2h-2zM556 1160h2v2h-2zM520 1161h2v2h-2zM495 1136h2v2h-2zM518 1158h2v2h-2zM483 1137h2v2h-2zM498 1143h2v2h-2zM522 1158h2v2h-2zM485 1146h2v2h-2zM507 1158h2v2h-2zM484 1142h2v2h-2zM509 1146h2v2h-2zM490 1148h2v2h-2zM529 1132h2v2h-2zM530 1147h2v2h-2zM527 1151h2v2h-2zM524 1158h2v2h-2zM517 1137h2v2h-2zM534 1140h2v2h-2zM498 1153h2v2h-2zM538 1145h2v2h-2zM498 1126h2v2h-2zM545 1152h2v2h-2zM521 1151h2v2h-2zM558 1157h2v2h-2zM516 1144h2v2h-2zM523 1144h2v2h-2zM487 1123h2v2h-2zM512 1151h2v2h-2zM520 1139h2v2h-2zM529 1141h2v2h-2zM483 1142h2v2h-2zM506 1131h2v2h-2zM525 1139h2v2h-2zM532 1150h2v2h-2zM500 1138h2v2h-2zM542 1150h2v2h-2zM485 1149h2v2h-2zM479 1142h2v2h-2zM489 1140h2v2h-2zM488 1140h2v2h-2zM530 1139h2v2h-2zM506 1159h2v2h-2zM518 1134h2v2h-2zM517 1142h2v2h-2zM509 1164h2v2h-2zM488 1149h2v2h-2zM515 1148h2v2h-2zM557 1160h2v2h-2zM495 1141h2v2h-2zM522 1156h2v2h-2zM547 1141h2v2h-2zM514 1156h2v2h-2zM500 1149h2v2h-2zM499 1139h2v2h-2zM514 1149h2v2h-2zM492 1121h2v2h-2zM522 1129h2v2h-2zM496 1141h2v2h-2zM480 1137h2v2h-2zM475 1129h2v2h-2zM504 1153h2v2h-2zM530 1149h2v2h-2zM519 1153h2v2h-2zM515 1128h2v2h-2zM511 1141h2v2h-2zM539 1154h2v2h-2zM504 1145h2v2h-2zM533 1146h2v2h-2zM482 1153h2v2h-2zM492 1138h2v2h-2zM488 1124h2v2h-2zM515 1144h2v2h-2zM521 1142h2v2h-2zM534 1149h2v2h-2zM500 1141h2v2h-2zM496 1140h2v2h-2zM487 1133h2v2h-2zM486 1137h2v2h-2zM540 1148h2v2h-2zM526 1153h2v2h-2zM524 1149h2v2h-2zM502 1150h2v2h-2zM520 1132h2v2h-2zM528 1152h2v2h-2zM501 1123h2v2h-2zM496 1137h2v2h-2zM563 1162h2v2h-2zM502 1126h2v2h-2zM501 1143h2v2h-2zM516 1138h2v2h-2zM513 1138h2v2h-2zM527 1161h2v2h-2zM513 1148h2v2h-2zM506 1157h2v2h-2zM496 1149h2v2h-2zM490 1150h2v2h-2zM515 1146h2v2h-2zM491 1145h2v2h-2zM496 1153h2v2h-2zM508 1140h2v2h-2zM532 1165h2v2h-2zM517 1154h2v2h-2zM533 1154h2v2h-2zM525 1134h2v2h-2zM542 1152h2v2h-2zM528 1169h2v2h-2zM520 1144h2v2h-2zM522 1152h2v2h-2zM506 1139h2v2h-2zM491 1127h2v2h-2zM508 1156h2v2h-2zM509 1138h2v2h-2zM512 1147h2v2h-2zM505 1149h2v2h-2zM516 1150h2v2h-2zM513 1134h2v2h-2zM508 1136h2v2h-2zM528 1158h2v2h-2zM512 1139h2v2h-2zM501 1126h2v2h-2zM496 1154h2v2h-2zM534 1142h2v2h-2zM484 1132h2v2h-2zM516 1156h2v2h-2zM474 1141h2v2h-2zM472 1135h2v2h-2zM493 1165h2v2h-2zM495 1129h2v2h-2zM474 1134h2v2h-2zM539 1150h2v2h-2zM507 1124h2v2h-2zM488 1136h2v2h-2zM505 1141h2v2h-2zM508 1143h2v2h-2zM486 1138h2v2h-2zM535 1149h2v2h-2zM511 1154h2v2h-2zM536 1151h2v2h-2zM529 1160h2v2h-2zM511 1156h2v2h-2zM526 1152h2v2h-2zM491 1136h2v2h-2zM513 1164h2v2h-2zM498 1135h2v2h-2zM500 1135h2v2h-2zM500 1136h2v2h-2zM512 1141h2v2h-2zM526 1150h2v2h-2zM506 1143h2v2h-2zM512 1133h2v2h-2zM488 1146h2v2h-2zM511 1140h2v2h-2zM520 1145h2v2h-2zM502 1142h2v2h-2zM494 1144h2v2h-2zM491 1148h2v2h-2zM531 1163h2v2h-2zM508 1152h2v2h-2zM489 1137h2v2h-2zM476 1132h2v2h-2zM513 1133h2v2h-2zM535 1152h2v2h-2zM502 1155h2v2h-2zM525 1143h2v2h-2zM505 1138h2v2h-2zM518 1160h2v2h-2zM528 1132h2v2h-2zM510 1136h2v2h-2zM499 1146h2v2h-2zM520 1129h2v2h-2zM467 1128h2v2h-2zM505 1132h2v2h-2zM499 1144h2v2h-2zM522 1148h2v2h-2zM491 1138h2v2h-2zM499 1141h2v2h-2zM541 1161h2v2h-2zM531 1159h2v2h-2zM531 1143h2v2h-2zM510 1129h2v2h-2zM525 1136h2v2h-2zM531 1151h2v2h-2zM534 1150h2v2h-2zM512 1142h2v2h-2zM529 1162h2v2h-2zM495 1143h2v2h-2zM517 1151h2v2h-2zM523 1134h2v2h-2zM523 1141h2v2h-2zM500 1155h2v2h-2zM527 1143h2v2h-2zM496 1139h2v2h-2zM475 1144h2v2h-2zM508 1137h2v2h-2zM505 1151h2v2h-2zM525 1152h2v2h-2zM510 1132h2v2h-2zM510 1133h2v2h-2zM479 1135h2v2h-2zM523 1162h2v2h-2zM491 1142h2v2h-2zM509 1149h2v2h-2zM496 1143h2v2h-2zM532 1141h2v2h-2zM490 1125h2v2h-2zM531 1157h2v2h-2zM517 1146h2v2h-2zM487 1126h2v2h-2zM528 1146h2v2h-2zM490 1147h2v2h-2zM512 1132h2v2h-2zM495 1137h2v2h-2zM524 1154h2v2h-2zM495 1139h2v2h-2zM487 1139h2v2h-2zM533 1144h2v2h-2zM477 1135h2v2h-2zM506 1142h2v2h-2zM511 1139h2v2h-2zM497 1153h2v2h-2zM527 1160h2v2h-2zM492 1139h2v2h-2zM536 1139h2v2h-2zM542 1160h2v2h-2zM486 1132h2v2h-2zM536 1136h2v2h-2zM532 1137h2v2h-2zM524 1150h2v2h-2zM497 1148h2v2h-2zM511 1153h2v2h-2zM506 1130h2v2h-2zM545 1160h2v2h-2zM520 1140h2v2h-2zM503 1150h2v2h-2zM491 1141h2v2h-2zM482 1148h2v2h-2zM524 1143h2v2h-2zM537 1152h2v2h-2zM491 1144h2v2h-2zM526 1138h2v2h-2zM489 1138h2v2h-2zM525 1138h2v2h-2zM505 1142h2v2h-2zM500 1148h2v2h-2zM475 1138h2v2h-2zM490 1138h2v2h-2zM526 1135h2v2h-2zM497 1132h2v2h-2zM511 1144h2v2h-2zM507 1148h2v2h-2zM516 1151h2v2h-2zM505 1155h2v2h-2zM520 1133h2v2h-2zM514 1136h2v2h-2zM510 1135h2v2h-2zM507 1132h2v2h-2zM521 1153h2v2h-2zM483 1140h2v2h-2zM542 1144h2v2h-2zM519 1145h2v2h-2zM526 1161h2v2h-2zM526 1158h2v2h-2zM533 1140h2v2h-2zM483 1139h2v2h-2zM530 1141h2v2h-2zM501 1145h2v2h-2zM535 1147h2v2h-2zM511 1130h2v2h-2zM514 1133h2v2h-2zM535 1145h2v2h-2zM531 1142h2v2h-2zM483 1131h2v2h-2zM489 1141h2v2h-2zM487 1135h2v2h-2zM521 1134h2v2h-2zM537 1150h2v2h-2zM540 1150h2v2h-2zM530 1148h2v2h-2zM518 1155h2v2h-2zM534 1161h2v2h-2zM502 1139h2v2h-2zM503 1132h2v2h-2zM495 1130h2v2h-2zM508 1132h2v2h-2zM532 1138h2v2h-2zM533 1152h2v2h-2zM486 1145h2v2h-2zM534 1155h2v2h-2zM529 1144h2v2h-2zM541 1151h2v2h-2zM480 1138h2v2h-2zM477 1138h2v2h-2zM478 1130h2v2h-2zM525 1154h2v2h-2zM516 1135h2v2h-2zM538 1152h2v2h-2zM539 1149h2v2h-2zM518 1144h2v2h-2zM537 1151h2v2h-2zM507 1135h2v2h-2zM527 1148h2v2h-2zM518 1143h2v2h-2zM532 1157h2v2h-2zM495 1132h2v2h-2zM493 1131h2v2h-2zM490 1127h2v2h-2zM528 1138h2v2h-2zM476 1140h2v2h-2zM536 1159h2v2h-2zM518 1145h2v2h-2zM513 1154h2v2h-2zM492 1152h2v2h-2zM539 1159h2v2h-2zM534 1146h2v2h-2zM491 1130h2v2h-2zM536 1144h2v2h-2zM529 1155h2v2h-2zM529 1139h2v2h-2zM520 1141h2v2h-2zM486 1133h2v2h-2zM488 1145h2v2h-2zM512 1138h2v2h-2zM497 1131h2v2h-2zM487 1127h2v2h-2zM534 1151h2v2h-2zM509 1136h2v2h-2zM491 1147h2v2h-2zM514 1145h2v2h-2zM524 1145h2v2h-2zM516 1159h2v2h-2zM537 1145h2v2h-2zM505 1128h2v2h-2zM488 1141h2v2h-2zM525 1160h2v2h-2zM520 1135h2v2h-2zM495 1131h2v2h-2zM491 1129h2v2h-2zM542 1159h2v2h-2zM475 1137h2v2h-2zM548 1152h2v2h-2zM522 1139h2v2h-2zM497 1130h2v2h-2zM485 1142h2v2h-2zM541 1142h2v2h-2zM521 1135h2v2h-2zM512 1130h2v2h-2zM486 1140h2v2h-2zM490 1128h2v2h-2zM516 1152h2v2h-2zM482 1137h2v2h-2zM500 1152h2v2h-2zM501 1128h2v2h-2zM507 1129h2v2h-2zM541 1145h2v2h-2zM498 1138h2v2h-2zM530 1150h2v2h-2zM514 1155h2v2h-2zM519 1137h2v2h-2zM546 1151h2v2h-2zM504 1148h2v2h-2zM502 1152h2v2h-2zM530 1137h2v2h-2zM519 1135h2v2h-2zM532 1151h2v2h-2zM511 1157h2v2h-2zM536 1146h2v2h-2zM541 1144h2v2h-2zM520 1146h2v2h-2zM508 1150h2v2h-2zM497 1147h2v2h-2zM482 1133h2v2h-2zM481 1142h2v2h-2zM539 1156h2v2h-2zM537 1144h2v2h-2zM543 1146h2v2h-2zM533 1137h2v2h-2zM523 1154h2v2h-2zM505 1135h2v2h-2zM530 1142h2v2h-2zM513 1132h2v2h-2zM544 1152h2v2h-2zM500 1150h2v2h-2zM496 1127h2v2h-2zM498 1136h2v2h-2zM518 1132h2v2h-2zM493 1139h2v2h-2zM524 1136h2v2h-2zM525 1137h2v2h-2zM510 1145h2v2h-2zM484 1145h2v2h-2zM480 1132h2v2h-2zM508 1144h2v2h-2zM489 1132h2v2h-2zM513 1144h2v2h-2zM521 1152h2v2h-2zM497 1128h2v2h-2zM528 1140h2v2h-2zM502 1145h2v2h-2zM514 1134h2v2h-2zM492 1143h2v2h-2zM518 1156h2v2h-2zM487 1128h2v2h-2zM523 1156h2v2h-2zM496 1150h2v2h-2zM508 1148h2v2h-2zM525 1159h2v2h-2zM515 1147h2v2h-2zM482 1134h2v2h-2zM541 1149h2v2h-2zM519 1151h2v2h-2zM517 1131h2v2h-2zM488 1130h2v2h-2zM497 1135h2v2h-2zM537 1159h2v2h-2zM544 1157h2v2h-2zM529 1161h2v2h-2zM518 1142h2v2h-2zM533 1161h2v2h-2zM538 1156h2v2h-2zM527 1140h2v2h-2zM506 1134h2v2h-2zM489 1136h2v2h-2zM529 1149h2v2h-2zM501 1144h2v2h-2zM540 1155h2v2h-2zM552 1164h2v2h-2zM552 1143h2v2h-2zM560 1164h2v2h-2zM543 1153h2v2h-2zM539 1158h2v2h-2zM547 1154h2v2h-2zM545 1162h2v2h-2zM540 1141h2v2h-2zM560 1155h2v2h-2zM537 1147h2v2h-2zM574 1153h2v2h-2zM567 1146h2v2h-2zM563 1166h2v2h-2zM544 1148h2v2h-2zM541 1153h2v2h-2zM556 1162h2v2h-2zM536 1145h2v2h-2zM545 1151h2v2h-2zM572 1151h2v2h-2zM540 1140h2v2h-2zM554 1161h2v2h-2zM563 1160h2v2h-2zM557 1163h2v2h-2zM571 1161h2v2h-2zM541 1148h2v2h-2zM566 1148h2v2h-2zM547 1151h2v2h-2zM564 1162h2v2h-2zM571 1154h2v2h-2zM560 1153h2v2h-2zM546 1156h2v2h-2zM549 1155h2v2h-2zM542 1154h2v2h-2zM555 1145h2v2h-2zM540 1144h2v2h-2zM544 1142h2v2h-2zM558 1154h2v2h-2zM579 1156h2v2h-2zM582 1158h2v2h-2zM552 1142h2v2h-2zM560 1157h2v2h-2zM557 1161h2v2h-2zM549 1147h2v2h-2zM542 1153h2v2h-2zM557 1150h2v2h-2zM565 1163h2v2h-2zM555 1156h2v2h-2zM571 1169h2v2h-2zM558 1158h2v2h-2zM551 1153h2v2h-2zM553 1147h2v2h-2zM564 1144h2v2h-2zM548 1161h2v2h-2zM534 1145h2v2h-2zM549 1159h2v2h-2zM573 1150h2v2h-2zM543 1156h2v2h-2zM579 1161h2v2h-2zM568 1148h2v2h-2zM520 1137h2v2h-2zM517 1126h2v2h-2zM501 1140h2v2h-2zM522 1154h2v2h-2zM538 1135h2v2h-2zM492 1124h2v2h-2zM495 1147h2v2h-2zM498 1141h2v2h-2zM493 1134h2v2h-2zM475 1139h2v2h-2zM550 1141h2v2h-2zM482 1156h2v2h-2zM537 1160h2v2h-2zM500 1114h2v2h-2zM479 1134h2v2h-2zM479 1152h2v2h-2zM542 1139h2v2h-2zM482 1132h2v2h-2zM479 1143h2v2h-2zM530 1169h2v2h-2zM533 1135h2v2h-2zM490 1136h2v2h-2zM503 1157h2v2h-2zM501 1132h2v2h-2zM533 1147h2v2h-2zM494 1135h2v2h-2zM483 1123h2v2h-2zM522 1134h2v2h-2zM494 1146h2v2h-2zM543 1157h2v2h-2zM528 1154h2v2h-2zM480 1129h2v2h-2zM484 1136h2v2h-2zM514 1162h2v2h-2zM536 1169h2v2h-2zM519 1139h2v2h-2zM510 1126h2v2h-2zM545 1143h2v2h-2zM570 1164h2v2h-2zM487 1137h2v2h-2zM474 1133h2v2h-2zM510 1154h2v2h-2zM478 1143h2v2h-2zM484 1153h2v2h-2zM502 1147h2v2h-2zM551 1157h2v2h-2zM506 1135h2v2h-2zM524 1157h2v2h-2zM490 1124h2v2h-2zM508 1159h2v2h-2zM545 1154h2v2h-2zM522 1128h2v2h-2zM471 1129h2v2h-2zM494 1149h2v2h-2zM560 1166h2v2h-2zM566 1147h2v2h-2zM491 1125h2v2h-2zM539 1153h2v2h-2zM526 1136h2v2h-2zM507 1123h2v2h-2zM541 1141h2v2h-2zM537 1164h2v2h-2zM472 1136h2v2h-2zM488 1154h2v2h-2zM535 1135h2v2h-2zM485 1155h2v2h-2zM556 1149h2v2h-2zM495 1152h2v2h-2zM460 1131h2v2h-2zM474 1142h2v2h-2zM491 1121h2v2h-2zM499 1135h2v2h-2zM510 1137h2v2h-2zM459 1131h2v2h-2zM506 1156h2v2h-2zM461 1130h2v2h-2zM499 1153h2v2h-2zM480 1136h2v2h-2zM568 1167h2v2h-2zM535 1155h2v2h-2zM525 1158h2v2h-2zM484 1133h2v2h-2zM478 1147h2v2h-2zM554 1164h2v2h-2zM560 1158h2v2h-2zM472 1129h2v2h-2zM536 1132h2v2h-2zM520 1155h2v2h-2zM540 1142h2v2h-2zM494 1131h2v2h-2zM490 1130h2v2h-2zM481 1147h2v2h-2zM488 1128h2v2h-2zM519 1161h2v2h-2zM488 1153h2v2h-2zM487 1131h2v2h-2zM523 1157h2v2h-2zM499 1119h2v2h-2zM469 1131h2v2h-2zM481 1148h2v2h-2zM525 1142h2v2h-2zM536 1133h2v2h-2zM483 1125h2v2h-2zM514 1153h2v2h-2zM503 1133h2v2h-2zM504 1155h2v2h-2zM529 1133h2v2h-2zM492 1144h2v2h-2zM488 1143h2v2h-2zM494 1129h2v2h-2zM539 1130h2v2h-2zM528 1130h2v2h-2zM486 1141h2v2h-2zM476 1145h2v2h-2zM542 1148h2v2h-2zM528 1168h2v2h-2zM498 1127h2v2h-2zM490 1155h2v2h-2zM487 1153h2v2h-2zM484 1124h2v2h-2zM483 1136h2v2h-2zM479 1139h2v2h-2zM523 1148h2v2h-2zM518 1159h2v2h-2zM545 1157h2v2h-2zM586 1202h2v2h-2zM549 1164h2v2h-2zM504 1161h2v2h-2zM516 1121h2v2h-2zM470 1147h2v2h-2zM542 1133h2v2h-2zM500 1164h2v2h-2zM474 1116h2v2h-2zM498 1160h2v2h-2zM534 1171h2v2h-2zM569 1160h2v2h-2zM580 1153h2v2h-2zM584 1158h2v2h-2zM581 1153h2v2h-2zM569 1157h2v2h-2zM577 1171h2v2h-2zM583 1168h2v2h-2zM552 1136h2v2h-2zM443 1124h2v2h-2zM545 1114h2v2h-2zM480 1115h2v2h-2zM488 1106h2v2h-2zM464 1142h2v2h-2zM544 1123h2v2h-2zM496 1116h2v2h-2zM521 1106h2v2h-2zM521 1109h2v2h-2zM465 1130h2v2h-2zM456 1126h2v2h-2zM494 1178h2v2h-2zM573 1140h2v2h-2zM549 1130h2v2h-2zM502 1115h2v2h-2zM484 1162h2v2h-2zM478 1152h2v2h-2zM555 1138h2v2h-2zM459 1122h2v2h-2zM464 1144h2v2h-2zM430 1117h2v2h-2zM405 1122h2v2h-2zM597 1197h2v2h-2zM571 1181h2v2h-2zM574 1194h2v2h-2zM589 1193h2v2h-2zM579 1196h2v2h-2zM564 1191h2v2h-2zM555 1186h2v2h-2zM565 1183h2v2h-2zM595 1216h2v2h-2zM326 985h2v2h-2zM416 1078h2v2h-2zM417 1082h2v2h-2zM362 1135h2v2h-2zM421 1155h2v2h-2zM581 1220h2v2h-2zM543 1183h2v2h-2zM577 1199h2v2h-2z"/><path fill="#06064a" d="M455 1133h2v2h-2zM511 1170h2v2h-2zM497 1115h2v2h-2zM547 1166h2v2h-2zM494 1164h2v2h-2zM517 1123h2v2h-2zM533 1130h2v2h-2zM468 1143h2v2h-2zM553 1168h2v2h-2zM498 1121h2v2h-2zM482 1118h2v2h-2zM457 1143h2v2h-2zM589 1166h2v2h-2zM584 1166h2v2h-2zM577 1160h2v2h-2zM579 1162h2v2h-2zM572 1148h2v2h-2zM562 1152h2v2h-2zM574 1155h2v2h-2zM564 1157h2v2h-2zM573 1164h2v2h-2zM569 1168h2v2h-2zM573 1169h2v2h-2zM562 1143h2v2h-2zM547 1135h2v2h-2zM502 1165h2v2h-2zM460 1140h2v2h-2zM534 1117h2v2h-2zM564 1109h2v2h-2zM488 1167h2v2h-2zM427 1104h2v2h-2zM565 1171h2v2h-2zM545 1179h2v2h-2zM474 1124h2v2h-2zM468 1119h2v2h-2zM443 1136h2v2h-2zM464 1119h2v2h-2zM542 1125h2v2h-2zM469 1145h2v2h-2zM543 1201h2v2h-2zM550 1176h2v2h-2zM519 1109h2v2h-2zM459 1124h2v2h-2zM537 1120h2v2h-2zM479 1156h2v2h-2zM547 1178h2v2h-2zM493 1168h2v2h-2zM448 1140h2v2h-2zM464 1133h2v2h-2zM467 1137h2v2h-2zM472 1152h2v2h-2zM502 1121h2v2h-2zM507 1118h2v2h-2zM454 1100h2v2h-2zM517 1116h2v2h-2zM509 1165h2v2h-2zM476 1123h2v2h-2zM501 1115h2v2h-2zM509 1103h2v2h-2zM434 1117h2v2h-2zM480 1121h2v2h-2zM504 1165h2v2h-2zM488 1159h2v2h-2zM514 1119h2v2h-2zM474 1153h2v2h-2zM564 1134h2v2h-2zM472 1153h2v2h-2zM517 1169h2v2h-2zM490 1164h2v2h-2zM473 1116h2v2h-2zM510 1105h2v2h-2zM451 1132h2v2h-2zM512 1172h2v2h-2zM583 1205h2v2h-2zM570 1179h2v2h-2zM589 1205h2v2h-2zM598 1210h2v2h-2zM548 1168h2v2h-2zM587 1188h2v2h-2zM556 1184h2v2h-2zM558 1190h2v2h-2zM563 1192h2v2h-2zM591 1211h2v2h-2zM227 897h2v2h-2zM357 905h2v2h-2zM321 976h2v2h-2zM444 1064h2v2h-2zM451 1078h2v2h-2zM454 1086h2v2h-2zM437 1094h2v2h-2zM447 1097h2v2h-2zM443 1101h2v2h-2zM452 1109h2v2h-2zM428 1113h2v2h-2zM456 1113h2v2h-2zM408 1160h2v2h-2zM429 1167h2v2h-2zM457 1157h2v2h-2zM623 1230h2v2h-2zM635 1242h2v2h-2zM579 1215h2v2h-2zM571 1209h2v2h-2zM543 1179h2v2h-2zM542 1187h2v2h-2zM556 1188h2v2h-2zM554 1194h2v2h-2zM561 1195h2v2h-2zM570 1195h2v2h-2zM582 1198h2v2h-2zM589 1196h2v2h-2zM589 1201h2v2h-2zM599 1170h2v2h-2zM585 1159h2v2h-2zM588 1168h2v2h-2z"/>
<path d="M185.5 842.5H1190.5V1347.5H185.5ZM185.5 1342V1352M329.5 1342V1352M329.5 843V848M472.5 1342V1352M472.5 843V848M616.5 1342V1352M616.5 843V848M759.5 1342V1352M759.5 843V848M903.5 1342V1352M903.5 843V848M1046.5 1342V1352M1046.5 843V848M1190.5 1342V1352M181 1347.5H191M181 1221.5H191M1185 1221.5H1190M181 1094.5H191M1185 1094.5H1190M181 968.5H191M1185 968.5H1190M181 842.5H191" stroke="#000" stroke-width="1" fill="none"/>
<text x="144.80" y="1351.80" class="t">0</text>
<text x="126.30" y="1225.80" class="t">10000</text>
<text x="126.80" y="1098.80" class="t">20000</text>
<text x="126.80" y="972.80" class="t">30000</text>
<text x="127.30" y="846.80" class="t">40000</text>
<text x="164.20" y="1373.00" class="t">-4000</text>
<text x="308.20" y="1373.00" class="t">-3000</text>
<text x="451.20" y="1373.00" class="t">-2000</text>
<text x="595.20" y="1373.00" class="t">-1000</text>
<text x="754.20" y="1373.00" class="t">0</text>
<text x="884.20" y="1373.00" class="t">1000</text>
<text x="1027.70" y="1373.00" class="t">2000</text>
<text x="1171.70" y="1373.00" class="t">3000</text>
<text x="634.00" y="1395.80" class="cx" xml:space="preserve">通道</text><text x="669.60" y="1395.80" class="l" xml:space="preserve">2</text><text x="686.90" y="1395.80" class="cx" xml:space="preserve">荧</text><text x="704.20" y="1395.80" class="cx" xml:space="preserve">光</text><text x="721.20" y="1395.80" class="cx" xml:space="preserve">值</text>
<g transform="translate(113.4 1144.8) rotate(-90) scale(1 0.87)"><text x="-1.00" y="0" class="y">通</text><text x="15.30" y="0" class="y">道</text><text x="52.00" y="0" class="y">荧</text><text x="68.00" y="0" class="y">光</text><text x="85.00" y="0" class="y">值</text></g>
<g transform="translate(114.4 1144.8) rotate(-90)"><text x="33.00" y="0" class="yl">1</text></g>
<text x="352.80" y="827.50" class="l" xml:space="preserve">(H04)</text><text x="393.30" y="827.60" class="c" xml:space="preserve">通道</text><text x="426.60" y="827.50" class="l" xml:space="preserve">1</text><text x="436.10" y="827.50" class="l" xml:space="preserve">+</text><text x="445.10" y="827.60" class="c" xml:space="preserve">通道</text><text x="478.80" y="827.50" class="l" xml:space="preserve">2</text><text x="487.70" y="827.50" class="l" xml:space="preserve">-</text><text x="493.40" y="827.50" class="l" xml:space="preserve">:</text><text x="499.40" y="827.50" class="l" xml:space="preserve">1423</text><text x="550.40" y="827.60" class="c" xml:space="preserve">通道</text><text x="583.50" y="827.50" class="l" xml:space="preserve">1</text><text x="592.50" y="827.50" class="l" xml:space="preserve">-</text><text x="599.20" y="827.60" class="c" xml:space="preserve">通道</text><text x="633.00" y="827.50" class="l" xml:space="preserve">2</text><text x="642.40" y="827.50" class="l" xml:space="preserve">+</text><text x="650.90" y="827.50" class="l" xml:space="preserve">:</text><text x="656.10" y="827.50" class="l" xml:space="preserve">0</text><text x="679.20" y="827.60" class="c" xml:space="preserve">通道</text><text x="712.80" y="827.50" class="l" xml:space="preserve">1</text><text x="722.80" y="827.50" class="l" xml:space="preserve">+</text><text x="732.20" y="827.60" class="c" xml:space="preserve">通道</text><text x="765.60" y="827.50" class="l" xml:space="preserve">2</text><text x="775.00" y="827.50" class="l" xml:space="preserve">+</text><text x="784.00" y="827.50" class="l" xml:space="preserve">:</text><text x="789.60" y="827.50" class="l" xml:space="preserve">0</text><text x="813.40" y="827.60" class="c" xml:space="preserve">通道</text><text x="846.20" y="827.50" class="l" xml:space="preserve">1</text><text x="855.20" y="827.50" class="l" xml:space="preserve">-</text><text x="861.40" y="827.60" class="c" xml:space="preserve">通道</text><text x="894.70" y="827.50" class="l" xml:space="preserve">2</text><text x="903.60" y="827.50" class="l" xml:space="preserve">-</text><text x="909.80" y="827.50" class="l" xml:space="preserve">:</text><text x="915.50" y="827.50" class="l" xml:space="preserve">60704</text>
</svg>
</body></html>
